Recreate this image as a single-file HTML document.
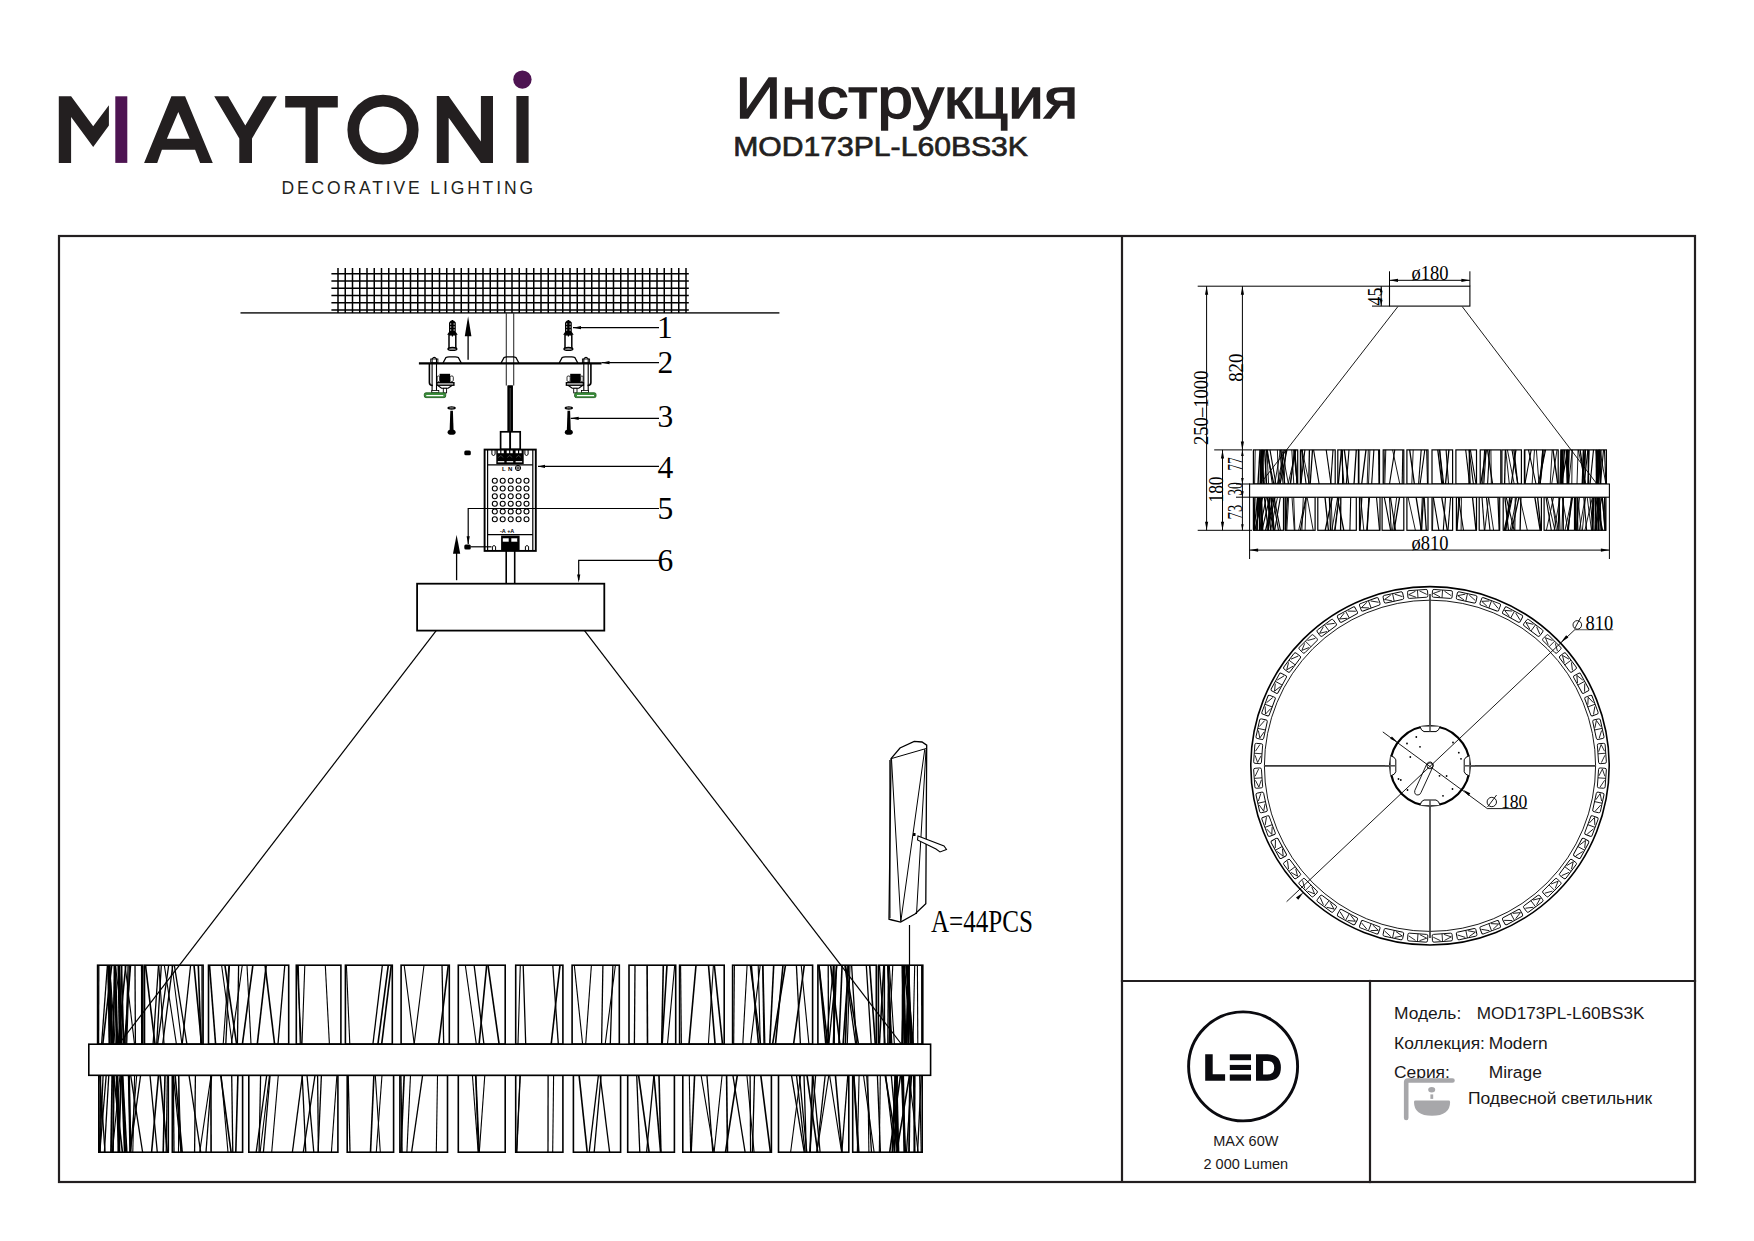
<!DOCTYPE html>
<html><head><meta charset="utf-8"><title>Инструкция MOD173PL-L60BS3K</title>
<style>html,body{margin:0;padding:0;background:#fff;width:1754px;height:1241px;overflow:hidden}svg{display:block}</style></head>
<body><svg width="1754" height="1241" viewBox="0 0 1754 1241">
<rect width="1754" height="1241" fill="#fff"/>
<g stroke="#231f20" stroke-width="2.2" fill="none" stroke-linecap="square">
<rect x="59" y="236" width="1636" height="946"/>
<line x1="1122" y1="236" x2="1122" y2="1182"/>
<line x1="1122" y1="981" x2="1695" y2="981"/>
<line x1="1370" y1="981" x2="1370" y2="1182"/>
</g>
<polygon points="58.8,96.3 71.1,96.3 93.2,126.3 108.9,105.3 108.9,125.6 93.2,146.9 71.1,117.0 71.1,162.9 58.8,162.9" fill="#231f20" />
<rect x="115.3" y="96.3" width="12" height="66.6" fill="#4e1452"/>
<path d="M144.1,162.9 L157.2,162.9 L161.9,149.8 L195.1,149.8 L200.1,162.9 L212.8,162.9 L185.1,96.3 L171.4,96.3 Z M178.3,112 L189.7,138.8 L166.9,138.8 Z" fill="#231f20" fill-rule="evenodd"/>
<polygon points="214.2,96.3 228.2,96.3 245.3,125.6 262.7,96.3 276.9,96.3 252.0,138.4 252.0,162.9 239.3,162.9 239.3,138.4" fill="#231f20" />
<polygon points="285.2,96.0 337.8,96.0 337.8,107.4 317.8,107.4 317.8,162.9 305.5,162.9 305.5,107.4 285.2,107.4" fill="#231f20" />
<ellipse cx="383" cy="129.7" rx="29.75" ry="29.05" fill="none" stroke="#231f20" stroke-width="11.7"/>
<polygon points="436.8,96.0 448.7,96.0 480.9,141.5 480.9,96.0 493.0,96.0 493.0,162.9 480.9,162.9 448.7,117.8 448.7,162.9 436.8,162.9" fill="#231f20" />
<rect x="516.4" y="96" width="12.2" height="66.9" fill="#231f20"/>
<circle cx="522.4" cy="79.6" r="9.2" fill="#4e1452"/>
<text x="281.6" y="194.2" font-family="Liberation Sans" font-size="17.5" fill="#231f20" textLength="251.4" lengthAdjust="spacing">DECORATIVE LIGHTING</text>
<text x="735.6" y="117.6" font-family="Liberation Sans" font-size="58" fill="#231f20" stroke="#231f20" stroke-width="1.5" stroke-linejoin="miter" textLength="342.6" lengthAdjust="spacingAndGlyphs">Инструкция</text>
<text x="733.2" y="156.4" font-family="Liberation Sans" font-size="28.4" fill="#231f20" stroke="#231f20" stroke-width="0.7" textLength="294.8" lengthAdjust="spacingAndGlyphs">MOD173PL-L60BS3K</text>
<text x="1394" y="1019.2" font-family="Liberation Sans" fill="#1a1718" font-size="17.4">Модель:</text>
<text x="1476.7" y="1019.2" font-family="Liberation Sans" fill="#1a1718" font-size="17.4" textLength="167.7" lengthAdjust="spacingAndGlyphs">MOD173PL-L60BS3K</text>
<text x="1394" y="1048.6" font-family="Liberation Sans" fill="#1a1718" font-size="17.4">Коллекция:</text>
<text x="1488.7" y="1048.6" font-family="Liberation Sans" fill="#1a1718" font-size="17.4">Modern</text>
<text x="1394" y="1078" font-family="Liberation Sans" fill="#1a1718" font-size="17.4">Серия:</text>
<text x="1488.7" y="1078" font-family="Liberation Sans" fill="#1a1718" font-size="17.4">Mirage</text>
<text x="1467.9" y="1104.1" font-family="Liberation Sans" fill="#1a1718" font-size="17.4" textLength="184.3" lengthAdjust="spacingAndGlyphs">Подвесной светильник</text>
<path d="M1406.2,1118 L1406.2,1082 Q1406.2,1080.5 1408,1080.5 L1452.5,1080.5" fill="none" stroke="#a7a7aa" stroke-width="4.6" stroke-linecap="round" stroke-linejoin="round"/>
<ellipse cx="1431.7" cy="1089.8" rx="3.5" ry="2.7" fill="#a7a7aa"/>
<rect x="1430.4" y="1094.4" width="2.8" height="4.5" fill="#a7a7aa"/>
<path d="M1414,1101.8 Q1414,1100.6 1415.5,1100.6 L1448.6,1100.6 Q1450.1,1100.6 1450.1,1102 Q1450.1,1115.8 1432,1115.8 Q1414,1115.8 1414,1102 Z" fill="#a7a7aa"/>
<circle cx="1243.1" cy="1066.4" r="54.5" fill="none" stroke="#0a0a0f" stroke-width="2.9"/>
<path d="M1205.2,1054.3 H1212.7 V1074.3 H1225.1 V1080.7 H1205.2 Z" fill="#0a0a0f"/>
<rect x="1229.8" y="1054.3" width="21.2" height="5.9" fill="#0a0a0f"/>
<rect x="1229.8" y="1064.9" width="21.2" height="5.1" fill="#0a0a0f"/>
<rect x="1229.8" y="1074.5" width="21.2" height="6.2" fill="#0a0a0f"/>
<path d="M1256,1054.3 H1267.5 Q1280.9,1054.3 1280.9,1067.5 Q1280.9,1080.7 1267.5,1080.7 H1256 Z M1263.1,1060.9 V1074.5 H1267 Q1274.2,1074.5 1274.2,1067.7 Q1274.2,1060.9 1267,1060.9 Z" fill="#0a0a0f" fill-rule="evenodd"/>
<text x="1245.8" y="1146.2" font-family="Liberation Sans" fill="#1a1718" font-size="14.5" text-anchor="middle">MAX 60W</text>
<text x="1245.8" y="1169.1" font-family="Liberation Sans" fill="#1a1718" font-size="14.5" text-anchor="middle">2 000 Lumen</text>
<line x1="240.5" y1="312.9" x2="779.4" y2="312.9" stroke="#3a3a3a" stroke-width="1.8" />
<path d="M338.00,268.1V312.9M345.25,268.1V312.9M352.50,268.1V312.9M359.75,268.1V312.9M367.00,268.1V312.9M374.25,268.1V312.9M381.50,268.1V312.9M388.75,268.1V312.9M396.00,268.1V312.9M403.25,268.1V312.9M410.50,268.1V312.9M417.75,268.1V312.9M425.00,268.1V312.9M432.25,268.1V312.9M439.50,268.1V312.9M446.75,268.1V312.9M454.00,268.1V312.9M461.25,268.1V312.9M468.50,268.1V312.9M475.75,268.1V312.9M483.00,268.1V312.9M490.25,268.1V312.9M497.50,268.1V312.9M504.75,268.1V312.9M512.00,268.1V312.9M519.25,268.1V312.9M526.50,268.1V312.9M533.75,268.1V312.9M541.00,268.1V312.9M548.25,268.1V312.9M555.50,268.1V312.9M562.75,268.1V312.9M570.00,268.1V312.9M577.25,268.1V312.9M584.50,268.1V312.9M591.75,268.1V312.9M599.00,268.1V312.9M606.25,268.1V312.9M613.50,268.1V312.9M620.75,268.1V312.9M628.00,268.1V312.9M635.25,268.1V312.9M642.50,268.1V312.9M649.75,268.1V312.9M657.00,268.1V312.9M664.25,268.1V312.9M671.50,268.1V312.9M678.75,268.1V312.9M686.00,268.1V312.9M331.4,273.80H688.8M331.4,281.05H688.8M331.4,288.30H688.8M331.4,295.55H688.8M331.4,302.80H688.8M331.4,310.05H688.8" stroke="#000" stroke-width="1.5" fill="none"/>
<line x1="506.3" y1="313.0" x2="506.3" y2="385.5" stroke="#333" stroke-width="1.1" />
<line x1="513.7" y1="313.0" x2="513.7" y2="385.5" stroke="#333" stroke-width="1.1" />
<rect x="507.6" y="385.5" width="5.2" height="46.0" fill="#000" stroke="#000" stroke-width="0"/>
<rect x="507.6" y="385.5" width="5.2" height="46" fill="#000"/>
<line x1="510.2" y1="388.0" x2="510.2" y2="431.5" stroke="#888" stroke-width="0.5" />
<line x1="418.9" y1="363.4" x2="601.5" y2="363.4" stroke="#000" stroke-width="2.2" />
<path d="M443.0,363 L446.0,357.5 Q447.0,356.8 449.0,356.8 L455.3,356.8 Q457.3,356.8 458.3,357.5 L461.3,363" fill="none" stroke="#000" stroke-width="1.3"/>
<path d="M501.1,363 L504.1,357.5 Q505.1,356.8 507.1,356.8 L512.9,356.8 Q514.9,356.8 515.9,357.5 L518.9,363" fill="none" stroke="#000" stroke-width="1.3"/>
<path d="M559.2,363 L562.2,357.5 Q563.2,356.8 565.2,356.8 L571.8,356.8 Q573.8,356.8 574.8,357.5 L577.8,363" fill="none" stroke="#000" stroke-width="1.3"/>
<path d="M449.0,332.5 V322.5 Q452.4,318 455.8,322.5 V332.5 Z" fill="#000"/>
<rect x="450.0" y="323.5" width="1.3" height="1" fill="#fff"/><rect x="453.5" y="323.5" width="1.3" height="1" fill="#fff"/>
<rect x="450.0" y="326.5" width="1.3" height="1" fill="#fff"/><rect x="453.5" y="326.5" width="1.3" height="1" fill="#fff"/>
<rect x="450.0" y="329.5" width="1.3" height="1" fill="#fff"/><rect x="453.5" y="329.5" width="1.3" height="1" fill="#fff"/>
<polygon points="447.1,334.8 449.0,331.9 455.8,331.9 457.7,334.8" fill="#000"/>
<rect x="449.0" y="334.8" width="6.8" height="13.6" fill="#fff" stroke="#000" stroke-width="1.5"/>
<ellipse cx="452.4" cy="348.9" rx="4.3" ry="1.3" fill="#fff" stroke="#000" stroke-width="1.6"/>
<line x1="452.4" y1="320.0" x2="452.4" y2="336.5" stroke="#000" stroke-width="1.2" />
<path d="M565.0,332.5 V322.5 Q568.4,318 571.8,322.5 V332.5 Z" fill="#000"/>
<rect x="566.0" y="323.5" width="1.3" height="1" fill="#fff"/><rect x="569.5" y="323.5" width="1.3" height="1" fill="#fff"/>
<rect x="566.0" y="326.5" width="1.3" height="1" fill="#fff"/><rect x="569.5" y="326.5" width="1.3" height="1" fill="#fff"/>
<rect x="566.0" y="329.5" width="1.3" height="1" fill="#fff"/><rect x="569.5" y="329.5" width="1.3" height="1" fill="#fff"/>
<polygon points="563.1,334.8 565.0,331.9 571.8,331.9 573.7,334.8" fill="#000"/>
<rect x="565.0" y="334.8" width="6.8" height="13.6" fill="#fff" stroke="#000" stroke-width="1.5"/>
<ellipse cx="568.4" cy="348.9" rx="4.3" ry="1.3" fill="#fff" stroke="#000" stroke-width="1.6"/>
<line x1="568.4" y1="320.0" x2="568.4" y2="336.5" stroke="#000" stroke-width="1.2" />
<line x1="468.1" y1="333.0" x2="468.1" y2="359.7" stroke="#000" stroke-width="1.3" />
<polygon points="468.1,316.3 471.4,336.3 464.8,336.3" fill="#000"/>
<g transform="translate(434.3,0) scale(-1,1)" fill="none" stroke="#000"><rect x="-3.6" y="359" width="7.2" height="3.6" stroke-width="0.9" fill="#fff"/><path d="M-2.2,393 V359 Q0,355.8 2.2,359 V393" stroke-width="1.1"/><path d="M4.9,364 V382.5 Q4.9,385.5 1.5,385.5" stroke-width="1.6"/><rect x="-15.8" y="373.8" width="10.5" height="8.9" fill="#000" stroke="none"/><rect x="-19" y="376" width="3.2" height="5.5" rx="1.2" stroke-width="0.8" fill="#fff"/><rect x="-5.3" y="376" width="2.4" height="5.5" rx="1" stroke-width="0.8" fill="#fff"/><rect x="-19.6" y="382.7" width="17" height="2.5" stroke-width="1.4" fill="#fff"/><path d="M-18,385.2 L-13.8,388.3 H-7.2 L-3.2,385.2" stroke-width="1.1"/><rect x="-12.3" y="388.3" width="3.3" height="4.6" stroke-width="0.9" fill="#fff"/><rect x="-4.5" y="390.5" width="7" height="2.3" stroke-width="0.8" fill="#fff"/><rect x="-11.4" y="392.8" width="21.4" height="4.8" rx="1.6" fill="#3d8f3d" stroke="#1f5f1f" stroke-width="0.9"/><line x1="-9" y1="395.6" x2="8" y2="395.6" stroke="#fff" stroke-width="1.2"/></g>
<g transform="translate(586,0) scale(1,1)" fill="none" stroke="#000"><rect x="-3.6" y="359" width="7.2" height="3.6" stroke-width="0.9" fill="#fff"/><path d="M-2.2,393 V359 Q0,355.8 2.2,359 V393" stroke-width="1.1"/><path d="M4.9,364 V382.5 Q4.9,385.5 1.5,385.5" stroke-width="1.6"/><rect x="-15.8" y="373.8" width="10.5" height="8.9" fill="#000" stroke="none"/><rect x="-19" y="376" width="3.2" height="5.5" rx="1.2" stroke-width="0.8" fill="#fff"/><rect x="-5.3" y="376" width="2.4" height="5.5" rx="1" stroke-width="0.8" fill="#fff"/><rect x="-19.6" y="382.7" width="17" height="2.5" stroke-width="1.4" fill="#fff"/><path d="M-18,385.2 L-13.8,388.3 H-7.2 L-3.2,385.2" stroke-width="1.1"/><rect x="-12.3" y="388.3" width="3.3" height="4.6" stroke-width="0.9" fill="#fff"/><rect x="-4.5" y="390.5" width="7" height="2.3" stroke-width="0.8" fill="#fff"/><rect x="-11.4" y="392.8" width="21.4" height="4.8" rx="1.6" fill="#3d8f3d" stroke="#1f5f1f" stroke-width="0.9"/><line x1="-9" y1="395.6" x2="8" y2="395.6" stroke="#fff" stroke-width="1.2"/></g>
<ellipse cx="451.6" cy="408" rx="4.2" ry="1.7" fill="#000"/>
<line x1="449.6" y1="407.9" x2="453.6" y2="407.9" stroke="#fff" stroke-width="0.6"/>
<polygon points="450.3,410.8 452.9,410.8 453.6,431 449.6,431" fill="#000"/>
<ellipse cx="451.6" cy="432.2" rx="4" ry="2.6" fill="#000"/>
<ellipse cx="568.8" cy="408" rx="4.2" ry="1.7" fill="#000"/>
<line x1="566.8" y1="407.9" x2="570.8" y2="407.9" stroke="#fff" stroke-width="0.6"/>
<polygon points="567.5,410.8 570.1,410.8 570.8,431 566.8,431" fill="#000"/>
<ellipse cx="568.8" cy="432.2" rx="4" ry="2.6" fill="#000"/>
<line x1="573.0" y1="327.7" x2="659.0" y2="327.7" stroke="#000" stroke-width="1.2" />
<polygon points="573.0,327.7 581.0,326.1 581.0,329.3" fill="#000"/>
<line x1="601.5" y1="362.7" x2="659.0" y2="362.7" stroke="#000" stroke-width="1.2" />
<polygon points="601.5,362.7 609.5,361.1 609.5,364.3" fill="#000"/>
<line x1="570.7" y1="418.3" x2="659.0" y2="418.3" stroke="#000" stroke-width="1.2" />
<polygon points="570.7,418.3 578.7,416.7 578.7,419.9" fill="#000"/>
<rect x="500.6" y="431.8" width="19.6" height="17.6" fill="none" stroke="#000" stroke-width="1.7"/>
<line x1="510.1" y1="431.5" x2="510.1" y2="449.4" stroke="#000" stroke-width="1.9" />
<rect x="484.6" y="449.6" width="51.2" height="101.3" fill="none" stroke="#000" stroke-width="1.9"/>
<line x1="487.6" y1="449.4" x2="487.6" y2="551.1" stroke="#000" stroke-width="1.2" />
<line x1="532.8" y1="449.4" x2="532.8" y2="551.1" stroke="#000" stroke-width="1.2" />
<line x1="487.6" y1="464.9" x2="532.8" y2="464.9" stroke="#000" stroke-width="1.3" />
<line x1="487.6" y1="534.7" x2="532.8" y2="534.7" stroke="#000" stroke-width="1.3" />
<rect x="496.3" y="449.8" width="27.4" height="14.4" fill="#000"/>
<rect x="497.8" y="450.6" width="2.4" height="2.6" fill="#fff"/><rect x="501.4" y="450.6" width="2.4" height="2.6" fill="#fff"/>
<rect x="497.8" y="461" width="6.5" height="1.4" fill="#ddd"/>
<path d="M498.3,457.5 L500.8,455.5 L503.3,457.5" stroke="#777" stroke-width="0.5" fill="none"/>
<rect x="506.7" y="450.6" width="2.4" height="2.6" fill="#fff"/><rect x="510.3" y="450.6" width="2.4" height="2.6" fill="#fff"/>
<rect x="506.7" y="461" width="6.5" height="1.4" fill="#ddd"/>
<path d="M507.2,457.5 L509.7,455.5 L512.2,457.5" stroke="#777" stroke-width="0.5" fill="none"/>
<rect x="515.6" y="450.6" width="2.4" height="2.6" fill="#fff"/><rect x="519.2" y="450.6" width="2.4" height="2.6" fill="#fff"/>
<rect x="515.6" y="461" width="6.5" height="1.4" fill="#ddd"/>
<path d="M516.1,457.5 L518.6,455.5 L521.1,457.5" stroke="#777" stroke-width="0.5" fill="none"/>
<path d="M491.9,450 V454.5 Q493.5,456.5 495.1,454.5 V450" fill="none" stroke="#000" stroke-width="1"/>
<path d="M524.9,450 V454.5 Q526.5,456.5 528.1,454.5 V450" fill="none" stroke="#000" stroke-width="1"/>
<text x="502" y="470.5" font-family="Liberation Sans" font-size="6" font-weight="bold" fill="#000">L</text>
<text x="508" y="470.5" font-family="Liberation Sans" font-size="6" font-weight="bold" fill="#000">N</text>
<circle cx="518" cy="468" r="2.6" fill="none" stroke="#000" stroke-width="1"/>
<line x1="515.4" y1="468.0" x2="520.6" y2="468.0" stroke="#000" stroke-width="0.8" />
<line x1="518.0" y1="465.4" x2="518.0" y2="470.6" stroke="#000" stroke-width="0.8" />
<circle cx="494.8" cy="480.8" r="2.5" fill="none" stroke="#000" stroke-width="1.1"/>
<circle cx="502.7" cy="480.8" r="2.5" fill="none" stroke="#000" stroke-width="1.1"/>
<circle cx="510.7" cy="480.8" r="2.5" fill="none" stroke="#000" stroke-width="1.1"/>
<circle cx="518.6" cy="480.8" r="2.5" fill="none" stroke="#000" stroke-width="1.1"/>
<circle cx="526.5" cy="480.8" r="2.5" fill="none" stroke="#000" stroke-width="1.1"/>
<circle cx="494.8" cy="488.5" r="2.5" fill="none" stroke="#000" stroke-width="1.1"/>
<circle cx="502.7" cy="488.5" r="2.5" fill="none" stroke="#000" stroke-width="1.1"/>
<circle cx="510.7" cy="488.5" r="2.5" fill="none" stroke="#000" stroke-width="1.1"/>
<circle cx="518.6" cy="488.5" r="2.5" fill="none" stroke="#000" stroke-width="1.1"/>
<circle cx="526.5" cy="488.5" r="2.5" fill="none" stroke="#000" stroke-width="1.1"/>
<circle cx="494.8" cy="496.2" r="2.5" fill="none" stroke="#000" stroke-width="1.1"/>
<circle cx="502.7" cy="496.2" r="2.5" fill="none" stroke="#000" stroke-width="1.1"/>
<circle cx="510.7" cy="496.2" r="2.5" fill="none" stroke="#000" stroke-width="1.1"/>
<circle cx="518.6" cy="496.2" r="2.5" fill="none" stroke="#000" stroke-width="1.1"/>
<circle cx="526.5" cy="496.2" r="2.5" fill="none" stroke="#000" stroke-width="1.1"/>
<circle cx="494.8" cy="503.8" r="2.5" fill="none" stroke="#000" stroke-width="1.1"/>
<circle cx="502.7" cy="503.8" r="2.5" fill="none" stroke="#000" stroke-width="1.1"/>
<circle cx="510.7" cy="503.8" r="2.5" fill="none" stroke="#000" stroke-width="1.1"/>
<circle cx="518.6" cy="503.8" r="2.5" fill="none" stroke="#000" stroke-width="1.1"/>
<circle cx="526.5" cy="503.8" r="2.5" fill="none" stroke="#000" stroke-width="1.1"/>
<circle cx="494.8" cy="511.5" r="2.5" fill="none" stroke="#000" stroke-width="1.1"/>
<circle cx="502.7" cy="511.5" r="2.5" fill="none" stroke="#000" stroke-width="1.1"/>
<circle cx="510.7" cy="511.5" r="2.5" fill="none" stroke="#000" stroke-width="1.1"/>
<circle cx="518.6" cy="511.5" r="2.5" fill="none" stroke="#000" stroke-width="1.1"/>
<circle cx="526.5" cy="511.5" r="2.5" fill="none" stroke="#000" stroke-width="1.1"/>
<circle cx="494.8" cy="519.2" r="2.5" fill="none" stroke="#000" stroke-width="1.1"/>
<circle cx="502.7" cy="519.2" r="2.5" fill="none" stroke="#000" stroke-width="1.1"/>
<circle cx="510.7" cy="519.2" r="2.5" fill="none" stroke="#000" stroke-width="1.1"/>
<circle cx="518.6" cy="519.2" r="2.5" fill="none" stroke="#000" stroke-width="1.1"/>
<circle cx="526.5" cy="519.2" r="2.5" fill="none" stroke="#000" stroke-width="1.1"/>
<text x="500" y="533" font-family="Liberation Sans" font-size="5.5" font-weight="bold" fill="#000">-A  +A</text>
<rect x="501.1" y="535.6" width="18.5" height="15" fill="#000"/>
<rect x="502.5" y="538.0" width="6.5" height="4.0" fill="#fff" stroke="#000" stroke-width="0.6"/>
<rect x="511.0" y="538.0" width="6.5" height="4.0" fill="#fff" stroke="#000" stroke-width="0.6"/>
<path d="M492.4,551 V546.5 Q494.0,544.5 495.6,546.5 V551" fill="none" stroke="#000" stroke-width="1"/>
<path d="M525.4,551 V546.5 Q527.0,544.5 528.6,546.5 V551" fill="none" stroke="#000" stroke-width="1"/>
<line x1="506.2" y1="551.0" x2="506.2" y2="583.7" stroke="#000" stroke-width="1.6" />
<line x1="514.7" y1="551.0" x2="514.7" y2="583.7" stroke="#000" stroke-width="1.6" />
<rect x="464.3" y="450.4" width="6.5" height="4.8" rx="1.5" fill="#000"/>
<rect x="464.3" y="544.6" width="6.5" height="4.8" rx="1.5" fill="#000"/>
<line x1="470.8" y1="546.8" x2="491.5" y2="546.8" stroke="#000" stroke-width="1.2" />
<line x1="538.0" y1="466.4" x2="659.0" y2="466.4" stroke="#000" stroke-width="1.2" />
<polygon points="538.0,466.4 545.0,464.8 545.0,468.0" fill="#000"/>
<path d="M659,508.5 H468.2 V544" fill="none" stroke="#000" stroke-width="1.2"/>
<polygon points="468.2,544.2 466.6,536.2 469.8,536.2" fill="#000"/>
<line x1="456.6" y1="550.0" x2="456.6" y2="580.2" stroke="#000" stroke-width="1.3" />
<polygon points="456.6,534.7 460.2,553.7 453.0,553.7" fill="#000"/>
<path d="M659,560.3 H578.7 V580" fill="none" stroke="#000" stroke-width="1.2"/>
<polygon points="578.7,582.5 577.1,574.5 580.3,574.5" fill="#000"/>
<text x="657" y="338" font-family="Liberation Serif" font-size="31.5" fill="#000" text-anchor="start" >1</text>
<text x="657.5" y="372.5" font-family="Liberation Serif" font-size="31.5" fill="#000" text-anchor="start" >2</text>
<text x="657.5" y="427.4" font-family="Liberation Serif" font-size="31.5" fill="#000" text-anchor="start" >3</text>
<text x="657.5" y="477.5" font-family="Liberation Serif" font-size="31.5" fill="#000" text-anchor="start" >4</text>
<text x="657.5" y="519.2" font-family="Liberation Serif" font-size="31.5" fill="#000" text-anchor="start" >5</text>
<text x="657.5" y="570.5" font-family="Liberation Serif" font-size="31.5" fill="#000" text-anchor="start" >6</text>
<rect x="417.1" y="583.7" width="187.2" height="46.9" fill="none" stroke="#000" stroke-width="1.8"/>
<line x1="436.2" y1="630.6" x2="120.5" y2="1042.0" stroke="#000" stroke-width="1.2" />
<line x1="584.5" y1="630.6" x2="901.3" y2="1044.0" stroke="#000" stroke-width="1.2" />
<rect x="97.6" y="965.2" width="45.2" height="78.9" fill="none" stroke="#000" stroke-width="1.6"/>
<line x1="118.1" y1="965.2" x2="119.4" y2="1044.1" stroke="#000" stroke-width="1.3" />
<line x1="125.8" y1="965.2" x2="118.1" y2="1044.1" stroke="#000" stroke-width="1.6" />
<line x1="121.6" y1="965.2" x2="119.2" y2="1044.1" stroke="#000" stroke-width="1.3" />
<line x1="111.7" y1="965.2" x2="102.8" y2="1044.1" stroke="#000" stroke-width="1.6" />
<line x1="128.1" y1="965.2" x2="126.0" y2="1044.1" stroke="#000" stroke-width="1.3" />
<line x1="129.4" y1="965.2" x2="126.8" y2="1044.1" stroke="#000" stroke-width="1.1" />
<line x1="125.1" y1="965.2" x2="134.5" y2="1044.1" stroke="#000" stroke-width="1.1" />
<line x1="130.5" y1="965.2" x2="124.5" y2="1044.1" stroke="#000" stroke-width="1.6" />
<line x1="135.0" y1="965.2" x2="135.4" y2="1044.1" stroke="#000" stroke-width="1.3" />
<line x1="98.8" y1="965.2" x2="98.6" y2="1044.1" stroke="#000" stroke-width="1.3" />
<line x1="141.7" y1="965.2" x2="141.8" y2="1044.1" stroke="#000" stroke-width="1.6" />
<line x1="109.6" y1="965.2" x2="115.2" y2="1044.1" stroke="#000" stroke-width="1.1" />
<line x1="107.4" y1="965.2" x2="101.6" y2="1044.1" stroke="#000" stroke-width="1.3" />
<line x1="115.3" y1="965.2" x2="125.2" y2="1044.1" stroke="#000" stroke-width="1.1" />
<rect x="144.5" y="965.2" width="58.6" height="78.9" fill="none" stroke="#000" stroke-width="1.6"/>
<line x1="168.7" y1="965.2" x2="157.6" y2="1044.1" stroke="#000" stroke-width="1.3" />
<line x1="198.3" y1="965.2" x2="201.0" y2="1044.1" stroke="#000" stroke-width="1.6" />
<line x1="161.3" y1="965.2" x2="156.7" y2="1044.1" stroke="#000" stroke-width="1.3" />
<line x1="164.3" y1="965.2" x2="176.4" y2="1044.1" stroke="#000" stroke-width="1.1" />
<line x1="158.5" y1="965.2" x2="153.1" y2="1044.1" stroke="#000" stroke-width="1.3" />
<line x1="190.6" y1="965.2" x2="182.2" y2="1044.1" stroke="#000" stroke-width="1.3" />
<line x1="174.3" y1="965.2" x2="186.9" y2="1044.1" stroke="#000" stroke-width="1.3" />
<line x1="172.0" y1="965.2" x2="181.9" y2="1044.1" stroke="#000" stroke-width="1.1" />
<line x1="145.5" y1="965.2" x2="155.0" y2="1044.1" stroke="#000" stroke-width="1.6" />
<line x1="172.7" y1="965.2" x2="162.7" y2="1044.1" stroke="#000" stroke-width="1.3" />
<line x1="201.9" y1="965.2" x2="202.1" y2="1044.1" stroke="#000" stroke-width="1.1" />
<line x1="194.0" y1="965.2" x2="201.5" y2="1044.1" stroke="#000" stroke-width="1.6" />
<line x1="158.8" y1="965.2" x2="164.1" y2="1044.1" stroke="#000" stroke-width="1.1" />
<rect x="208.5" y="965.2" width="80.2" height="78.9" fill="none" stroke="#000" stroke-width="1.6"/>
<line x1="229.4" y1="965.2" x2="225.8" y2="1044.1" stroke="#000" stroke-width="1.3" />
<line x1="238.6" y1="965.2" x2="237.4" y2="1044.1" stroke="#000" stroke-width="1.3" />
<line x1="265.1" y1="965.2" x2="274.6" y2="1044.1" stroke="#000" stroke-width="1.6" />
<line x1="221.6" y1="965.2" x2="232.2" y2="1044.1" stroke="#000" stroke-width="1.1" />
<line x1="266.2" y1="965.2" x2="257.3" y2="1044.1" stroke="#000" stroke-width="1.6" />
<line x1="224.9" y1="965.2" x2="236.6" y2="1044.1" stroke="#000" stroke-width="1.6" />
<line x1="209.5" y1="965.2" x2="215.6" y2="1044.1" stroke="#000" stroke-width="1.6" />
<line x1="284.8" y1="965.2" x2="278.0" y2="1044.1" stroke="#000" stroke-width="1.3" />
<line x1="252.9" y1="965.2" x2="242.4" y2="1044.1" stroke="#000" stroke-width="1.6" />
<line x1="228.9" y1="965.2" x2="223.2" y2="1044.1" stroke="#000" stroke-width="1.1" />
<line x1="247.0" y1="965.2" x2="251.0" y2="1044.1" stroke="#000" stroke-width="1.1" />
<line x1="242.3" y1="965.2" x2="231.4" y2="1044.1" stroke="#000" stroke-width="1.1" />
<rect x="296.3" y="965.2" width="44.6" height="78.9" fill="none" stroke="#000" stroke-width="1.6"/>
<line x1="298.3" y1="965.2" x2="300.2" y2="1044.1" stroke="#000" stroke-width="1.1" />
<line x1="304.8" y1="965.2" x2="302.0" y2="1044.1" stroke="#000" stroke-width="1.1" />
<line x1="297.3" y1="965.2" x2="301.2" y2="1044.1" stroke="#000" stroke-width="1.3" />
<line x1="325.3" y1="965.2" x2="329.4" y2="1044.1" stroke="#000" stroke-width="1.1" />
<rect x="345.4" y="965.2" width="46.9" height="78.9" fill="none" stroke="#000" stroke-width="1.6"/>
<line x1="382.4" y1="965.2" x2="372.9" y2="1044.1" stroke="#000" stroke-width="1.3" />
<line x1="388.3" y1="965.2" x2="377.9" y2="1044.1" stroke="#000" stroke-width="1.6" />
<line x1="346.4" y1="965.2" x2="349.8" y2="1044.1" stroke="#000" stroke-width="1.1" />
<line x1="391.3" y1="965.2" x2="381.7" y2="1044.1" stroke="#000" stroke-width="1.6" />
<rect x="401.1" y="965.2" width="48.2" height="78.9" fill="none" stroke="#000" stroke-width="1.6"/>
<line x1="404.2" y1="965.2" x2="414.2" y2="1044.1" stroke="#000" stroke-width="1.1" />
<line x1="448.3" y1="965.2" x2="438.7" y2="1044.1" stroke="#000" stroke-width="1.6" />
<line x1="424.0" y1="965.2" x2="414.2" y2="1044.1" stroke="#000" stroke-width="1.1" />
<line x1="442.0" y1="965.2" x2="443.7" y2="1044.1" stroke="#000" stroke-width="1.3" />
<rect x="458.3" y="965.2" width="46.9" height="78.9" fill="none" stroke="#000" stroke-width="1.6"/>
<line x1="465.3" y1="965.2" x2="476.3" y2="1044.1" stroke="#000" stroke-width="1.1" />
<line x1="488.0" y1="965.2" x2="499.1" y2="1044.1" stroke="#000" stroke-width="1.6" />
<line x1="474.1" y1="965.2" x2="483.9" y2="1044.1" stroke="#000" stroke-width="1.3" />
<line x1="486.7" y1="965.2" x2="479.1" y2="1044.1" stroke="#000" stroke-width="1.6" />
<rect x="515.7" y="965.2" width="47.2" height="78.9" fill="none" stroke="#000" stroke-width="1.6"/>
<line x1="520.3" y1="965.2" x2="518.0" y2="1044.1" stroke="#000" stroke-width="1.1" />
<line x1="560.0" y1="965.2" x2="551.2" y2="1044.1" stroke="#000" stroke-width="1.6" />
<line x1="552.8" y1="965.2" x2="558.3" y2="1044.1" stroke="#000" stroke-width="1.3" />
<line x1="523.2" y1="965.2" x2="525.7" y2="1044.1" stroke="#000" stroke-width="1.3" />
<rect x="572.1" y="965.2" width="47.2" height="78.9" fill="none" stroke="#000" stroke-width="1.6"/>
<line x1="602.9" y1="965.2" x2="601.6" y2="1044.1" stroke="#000" stroke-width="1.3" />
<line x1="591.4" y1="965.2" x2="585.7" y2="1044.1" stroke="#000" stroke-width="1.1" />
<line x1="612.9" y1="965.2" x2="610.3" y2="1044.1" stroke="#000" stroke-width="1.3" />
<line x1="574.3" y1="965.2" x2="582.6" y2="1044.1" stroke="#000" stroke-width="1.1" />
<line x1="615.4" y1="965.2" x2="605.2" y2="1044.1" stroke="#000" stroke-width="1.1" />
<rect x="629.0" y="965.2" width="46.7" height="78.9" fill="none" stroke="#000" stroke-width="1.6"/>
<line x1="635.0" y1="965.2" x2="634.4" y2="1044.1" stroke="#000" stroke-width="1.3" />
<line x1="647.1" y1="965.2" x2="647.5" y2="1044.1" stroke="#000" stroke-width="1.6" />
<line x1="674.7" y1="965.2" x2="667.5" y2="1044.1" stroke="#000" stroke-width="1.1" />
<line x1="667.0" y1="965.2" x2="662.1" y2="1044.1" stroke="#000" stroke-width="1.6" />
<line x1="663.3" y1="965.2" x2="661.7" y2="1044.1" stroke="#000" stroke-width="1.6" />
<rect x="679.6" y="965.2" width="44.6" height="78.9" fill="none" stroke="#000" stroke-width="1.6"/>
<line x1="680.6" y1="965.2" x2="681.4" y2="1044.1" stroke="#000" stroke-width="1.1" />
<line x1="713.4" y1="965.2" x2="708.4" y2="1044.1" stroke="#000" stroke-width="1.1" />
<line x1="714.3" y1="965.2" x2="722.5" y2="1044.1" stroke="#000" stroke-width="1.6" />
<line x1="708.5" y1="965.2" x2="715.1" y2="1044.1" stroke="#000" stroke-width="1.6" />
<line x1="696.0" y1="965.2" x2="689.0" y2="1044.1" stroke="#000" stroke-width="1.6" />
<rect x="732.6" y="965.2" width="80.0" height="78.9" fill="none" stroke="#000" stroke-width="1.6"/>
<line x1="734.4" y1="965.2" x2="733.7" y2="1044.1" stroke="#000" stroke-width="1.1" />
<line x1="751.3" y1="965.2" x2="758.5" y2="1044.1" stroke="#000" stroke-width="1.6" />
<line x1="785.5" y1="965.2" x2="772.6" y2="1044.1" stroke="#000" stroke-width="1.6" />
<line x1="804.3" y1="965.2" x2="793.6" y2="1044.1" stroke="#000" stroke-width="1.6" />
<line x1="762.6" y1="965.2" x2="763.9" y2="1044.1" stroke="#000" stroke-width="1.1" />
<line x1="763.0" y1="965.2" x2="764.8" y2="1044.1" stroke="#000" stroke-width="1.3" />
<line x1="773.7" y1="965.2" x2="769.8" y2="1044.1" stroke="#000" stroke-width="1.6" />
<line x1="801.2" y1="965.2" x2="808.9" y2="1044.1" stroke="#000" stroke-width="1.1" />
<line x1="750.2" y1="965.2" x2="760.6" y2="1044.1" stroke="#000" stroke-width="1.3" />
<line x1="783.0" y1="965.2" x2="775.5" y2="1044.1" stroke="#000" stroke-width="1.6" />
<line x1="796.4" y1="965.2" x2="800.4" y2="1044.1" stroke="#000" stroke-width="1.3" />
<line x1="758.2" y1="965.2" x2="760.3" y2="1044.1" stroke="#000" stroke-width="1.1" />
<line x1="760.2" y1="965.2" x2="750.6" y2="1044.1" stroke="#000" stroke-width="1.1" />
<line x1="747.1" y1="965.2" x2="742.8" y2="1044.1" stroke="#000" stroke-width="1.1" />
<rect x="817.9" y="965.2" width="58.4" height="78.9" fill="none" stroke="#000" stroke-width="1.6"/>
<line x1="845.4" y1="965.2" x2="858.4" y2="1044.1" stroke="#000" stroke-width="1.6" />
<line x1="866.3" y1="965.2" x2="871.2" y2="1044.1" stroke="#000" stroke-width="1.3" />
<line x1="851.6" y1="965.2" x2="856.5" y2="1044.1" stroke="#000" stroke-width="1.3" />
<line x1="848.6" y1="965.2" x2="843.1" y2="1044.1" stroke="#000" stroke-width="1.6" />
<line x1="828.2" y1="965.2" x2="828.5" y2="1044.1" stroke="#000" stroke-width="1.3" />
<line x1="836.5" y1="965.2" x2="833.4" y2="1044.1" stroke="#000" stroke-width="1.6" />
<line x1="830.6" y1="965.2" x2="839.8" y2="1044.1" stroke="#000" stroke-width="1.6" />
<line x1="834.2" y1="965.2" x2="834.3" y2="1044.1" stroke="#000" stroke-width="1.1" />
<line x1="850.0" y1="965.2" x2="847.3" y2="1044.1" stroke="#000" stroke-width="1.1" />
<line x1="848.0" y1="965.2" x2="845.4" y2="1044.1" stroke="#000" stroke-width="1.6" />
<line x1="818.9" y1="965.2" x2="825.8" y2="1044.1" stroke="#000" stroke-width="1.6" />
<line x1="844.8" y1="965.2" x2="855.7" y2="1044.1" stroke="#000" stroke-width="1.3" />
<line x1="833.4" y1="965.2" x2="834.1" y2="1044.1" stroke="#000" stroke-width="1.3" />
<line x1="869.7" y1="965.2" x2="875.3" y2="1044.1" stroke="#000" stroke-width="1.6" />
<line x1="836.8" y1="965.2" x2="828.8" y2="1044.1" stroke="#000" stroke-width="1.3" />
<line x1="833.5" y1="965.2" x2="826.2" y2="1044.1" stroke="#000" stroke-width="1.1" />
<line x1="818.9" y1="965.2" x2="827.7" y2="1044.1" stroke="#000" stroke-width="1.6" />
<line x1="842.1" y1="965.2" x2="838.9" y2="1044.1" stroke="#000" stroke-width="1.6" />
<rect x="878.4" y="965.2" width="44.4" height="78.9" fill="none" stroke="#000" stroke-width="1.6"/>
<line x1="904.1" y1="965.2" x2="911.6" y2="1044.1" stroke="#000" stroke-width="1.6" />
<line x1="888.4" y1="965.2" x2="887.8" y2="1044.1" stroke="#000" stroke-width="1.3" />
<line x1="906.2" y1="965.2" x2="913.2" y2="1044.1" stroke="#000" stroke-width="1.6" />
<line x1="888.1" y1="965.2" x2="890.9" y2="1044.1" stroke="#000" stroke-width="1.6" />
<line x1="888.6" y1="965.2" x2="889.5" y2="1044.1" stroke="#000" stroke-width="1.1" />
<line x1="889.3" y1="965.2" x2="894.4" y2="1044.1" stroke="#000" stroke-width="1.1" />
<line x1="892.8" y1="965.2" x2="888.9" y2="1044.1" stroke="#000" stroke-width="1.1" />
<line x1="905.9" y1="965.2" x2="912.4" y2="1044.1" stroke="#000" stroke-width="1.1" />
<line x1="879.4" y1="965.2" x2="885.0" y2="1044.1" stroke="#000" stroke-width="1.3" />
<line x1="914.7" y1="965.2" x2="913.0" y2="1044.1" stroke="#000" stroke-width="1.1" />
<line x1="887.9" y1="965.2" x2="890.6" y2="1044.1" stroke="#000" stroke-width="1.1" />
<line x1="887.9" y1="965.2" x2="891.8" y2="1044.1" stroke="#000" stroke-width="1.3" />
<line x1="884.3" y1="965.2" x2="884.4" y2="1044.1" stroke="#000" stroke-width="1.6" />
<line x1="921.7" y1="965.2" x2="921.8" y2="1044.1" stroke="#000" stroke-width="1.3" />
<line x1="883.9" y1="965.2" x2="879.4" y2="1044.1" stroke="#000" stroke-width="1.6" />
<line x1="917.4" y1="965.2" x2="917.8" y2="1044.1" stroke="#000" stroke-width="1.1" />
<rect x="98.8" y="1075.3" width="69.5" height="76.9" fill="none" stroke="#000" stroke-width="1.6"/>
<line x1="113.6" y1="1075.3" x2="122.4" y2="1152.2" stroke="#000" stroke-width="1.6" />
<line x1="106.2" y1="1075.3" x2="99.8" y2="1152.2" stroke="#000" stroke-width="1.3" />
<line x1="99.8" y1="1075.3" x2="105.0" y2="1152.2" stroke="#000" stroke-width="1.3" />
<line x1="134.6" y1="1075.3" x2="132.8" y2="1152.2" stroke="#000" stroke-width="1.1" />
<line x1="130.7" y1="1075.3" x2="142.6" y2="1152.2" stroke="#000" stroke-width="1.3" />
<line x1="136.7" y1="1075.3" x2="130.4" y2="1152.2" stroke="#000" stroke-width="1.1" />
<line x1="140.6" y1="1075.3" x2="130.1" y2="1152.2" stroke="#000" stroke-width="1.3" />
<line x1="160.1" y1="1075.3" x2="167.3" y2="1152.2" stroke="#000" stroke-width="1.6" />
<line x1="165.0" y1="1075.3" x2="163.2" y2="1152.2" stroke="#000" stroke-width="1.6" />
<line x1="167.3" y1="1075.3" x2="166.1" y2="1152.2" stroke="#000" stroke-width="1.1" />
<line x1="150.0" y1="1075.3" x2="157.3" y2="1152.2" stroke="#000" stroke-width="1.3" />
<line x1="108.8" y1="1075.3" x2="104.4" y2="1152.2" stroke="#000" stroke-width="1.3" />
<line x1="158.5" y1="1075.3" x2="151.6" y2="1152.2" stroke="#000" stroke-width="1.6" />
<line x1="120.0" y1="1075.3" x2="112.3" y2="1152.2" stroke="#000" stroke-width="1.1" />
<line x1="100.5" y1="1075.3" x2="99.8" y2="1152.2" stroke="#000" stroke-width="1.6" />
<line x1="103.1" y1="1075.3" x2="99.8" y2="1152.2" stroke="#000" stroke-width="1.3" />
<line x1="122.6" y1="1075.3" x2="126.8" y2="1152.2" stroke="#000" stroke-width="1.6" />
<rect x="172.3" y="1075.3" width="70.3" height="76.9" fill="none" stroke="#000" stroke-width="1.6"/>
<line x1="178.9" y1="1075.3" x2="178.5" y2="1152.2" stroke="#000" stroke-width="1.1" />
<line x1="221.2" y1="1075.3" x2="228.0" y2="1152.2" stroke="#000" stroke-width="1.1" />
<line x1="173.3" y1="1075.3" x2="181.1" y2="1152.2" stroke="#000" stroke-width="1.3" />
<line x1="189.0" y1="1075.3" x2="200.7" y2="1152.2" stroke="#000" stroke-width="1.3" />
<line x1="173.3" y1="1075.3" x2="174.0" y2="1152.2" stroke="#000" stroke-width="1.3" />
<line x1="210.9" y1="1075.3" x2="211.1" y2="1152.2" stroke="#000" stroke-width="1.6" />
<line x1="220.7" y1="1075.3" x2="231.1" y2="1152.2" stroke="#000" stroke-width="1.6" />
<line x1="178.5" y1="1075.3" x2="181.0" y2="1152.2" stroke="#000" stroke-width="1.1" />
<line x1="211.1" y1="1075.3" x2="199.7" y2="1152.2" stroke="#000" stroke-width="1.1" />
<line x1="231.7" y1="1075.3" x2="232.8" y2="1152.2" stroke="#000" stroke-width="1.3" />
<line x1="237.9" y1="1075.3" x2="235.8" y2="1152.2" stroke="#000" stroke-width="1.6" />
<line x1="195.4" y1="1075.3" x2="194.6" y2="1152.2" stroke="#000" stroke-width="1.3" />
<line x1="211.6" y1="1075.3" x2="206.0" y2="1152.2" stroke="#000" stroke-width="1.3" />
<line x1="175.1" y1="1075.3" x2="182.2" y2="1152.2" stroke="#000" stroke-width="1.6" />
<rect x="248.8" y="1075.3" width="89.1" height="76.9" fill="none" stroke="#000" stroke-width="1.6"/>
<line x1="270.1" y1="1075.3" x2="263.4" y2="1152.2" stroke="#000" stroke-width="1.3" />
<line x1="315.0" y1="1075.3" x2="303.3" y2="1152.2" stroke="#000" stroke-width="1.3" />
<line x1="266.7" y1="1075.3" x2="256.2" y2="1152.2" stroke="#000" stroke-width="1.3" />
<line x1="278.3" y1="1075.3" x2="271.7" y2="1152.2" stroke="#000" stroke-width="1.1" />
<line x1="336.9" y1="1075.3" x2="331.4" y2="1152.2" stroke="#000" stroke-width="1.1" />
<line x1="302.4" y1="1075.3" x2="292.4" y2="1152.2" stroke="#000" stroke-width="1.3" />
<line x1="269.5" y1="1075.3" x2="260.1" y2="1152.2" stroke="#000" stroke-width="1.1" />
<line x1="260.6" y1="1075.3" x2="259.1" y2="1152.2" stroke="#000" stroke-width="1.3" />
<line x1="302.2" y1="1075.3" x2="305.8" y2="1152.2" stroke="#000" stroke-width="1.3" />
<line x1="317.6" y1="1075.3" x2="318.4" y2="1152.2" stroke="#000" stroke-width="1.3" />
<line x1="307.0" y1="1075.3" x2="313.8" y2="1152.2" stroke="#000" stroke-width="1.3" />
<line x1="321.4" y1="1075.3" x2="318.1" y2="1152.2" stroke="#000" stroke-width="1.3" />
<rect x="347.2" y="1075.3" width="46.4" height="76.9" fill="none" stroke="#000" stroke-width="1.6"/>
<line x1="375.3" y1="1075.3" x2="380.3" y2="1152.2" stroke="#000" stroke-width="1.1" />
<line x1="382.0" y1="1075.3" x2="376.3" y2="1152.2" stroke="#000" stroke-width="1.1" />
<line x1="373.9" y1="1075.3" x2="370.5" y2="1152.2" stroke="#000" stroke-width="1.6" />
<line x1="348.2" y1="1075.3" x2="350.0" y2="1152.2" stroke="#000" stroke-width="1.3" />
<rect x="399.9" y="1075.3" width="47.6" height="76.9" fill="none" stroke="#000" stroke-width="1.6"/>
<line x1="400.9" y1="1075.3" x2="402.1" y2="1152.2" stroke="#000" stroke-width="1.3" />
<line x1="404.2" y1="1075.3" x2="400.9" y2="1152.2" stroke="#000" stroke-width="1.6" />
<line x1="422.6" y1="1075.3" x2="411.6" y2="1152.2" stroke="#000" stroke-width="1.3" />
<line x1="410.5" y1="1075.3" x2="406.9" y2="1152.2" stroke="#000" stroke-width="1.1" />
<line x1="437.5" y1="1075.3" x2="436.3" y2="1152.2" stroke="#000" stroke-width="1.1" />
<rect x="458.3" y="1075.3" width="46.9" height="76.9" fill="none" stroke="#000" stroke-width="1.6"/>
<line x1="484.8" y1="1075.3" x2="479.3" y2="1152.2" stroke="#000" stroke-width="1.1" />
<line x1="475.9" y1="1075.3" x2="479.3" y2="1152.2" stroke="#000" stroke-width="1.3" />
<line x1="472.4" y1="1075.3" x2="478.2" y2="1152.2" stroke="#000" stroke-width="1.1" />
<line x1="475.6" y1="1075.3" x2="478.5" y2="1152.2" stroke="#000" stroke-width="1.3" />
<rect x="515.7" y="1075.3" width="47.2" height="76.9" fill="none" stroke="#000" stroke-width="1.6"/>
<line x1="520.2" y1="1075.3" x2="516.7" y2="1152.2" stroke="#000" stroke-width="1.3" />
<line x1="553.6" y1="1075.3" x2="552.7" y2="1152.2" stroke="#000" stroke-width="1.1" />
<line x1="520.1" y1="1075.3" x2="516.7" y2="1152.2" stroke="#000" stroke-width="1.1" />
<line x1="548.1" y1="1075.3" x2="548.0" y2="1152.2" stroke="#000" stroke-width="1.3" />
<rect x="573.4" y="1075.3" width="47.2" height="76.9" fill="none" stroke="#000" stroke-width="1.6"/>
<line x1="579.1" y1="1075.3" x2="587.2" y2="1152.2" stroke="#000" stroke-width="1.6" />
<line x1="598.4" y1="1075.3" x2="589.2" y2="1152.2" stroke="#000" stroke-width="1.3" />
<line x1="600.1" y1="1075.3" x2="609.6" y2="1152.2" stroke="#000" stroke-width="1.3" />
<line x1="601.1" y1="1075.3" x2="594.2" y2="1152.2" stroke="#000" stroke-width="1.3" />
<rect x="627.7" y="1075.3" width="46.7" height="76.9" fill="none" stroke="#000" stroke-width="1.6"/>
<line x1="638.6" y1="1075.3" x2="649.1" y2="1152.2" stroke="#000" stroke-width="1.6" />
<line x1="636.7" y1="1075.3" x2="639.8" y2="1152.2" stroke="#000" stroke-width="1.3" />
<line x1="659.0" y1="1075.3" x2="660.9" y2="1152.2" stroke="#000" stroke-width="1.6" />
<line x1="653.9" y1="1075.3" x2="660.6" y2="1152.2" stroke="#000" stroke-width="1.6" />
<line x1="653.9" y1="1075.3" x2="646.6" y2="1152.2" stroke="#000" stroke-width="1.3" />
<rect x="682.8" y="1075.3" width="88.6" height="76.9" fill="none" stroke="#000" stroke-width="1.6"/>
<line x1="746.9" y1="1075.3" x2="754.1" y2="1152.2" stroke="#000" stroke-width="1.1" />
<line x1="732.9" y1="1075.3" x2="745.1" y2="1152.2" stroke="#000" stroke-width="1.3" />
<line x1="689.3" y1="1075.3" x2="690.6" y2="1152.2" stroke="#000" stroke-width="1.1" />
<line x1="706.9" y1="1075.3" x2="712.8" y2="1152.2" stroke="#000" stroke-width="1.3" />
<line x1="694.6" y1="1075.3" x2="691.1" y2="1152.2" stroke="#000" stroke-width="1.6" />
<line x1="754.5" y1="1075.3" x2="752.5" y2="1152.2" stroke="#000" stroke-width="1.3" />
<line x1="750.1" y1="1075.3" x2="750.6" y2="1152.2" stroke="#000" stroke-width="1.3" />
<line x1="722.1" y1="1075.3" x2="714.1" y2="1152.2" stroke="#000" stroke-width="1.1" />
<line x1="726.6" y1="1075.3" x2="727.5" y2="1152.2" stroke="#000" stroke-width="1.6" />
<line x1="737.3" y1="1075.3" x2="725.5" y2="1152.2" stroke="#000" stroke-width="1.6" />
<line x1="701.1" y1="1075.3" x2="714.0" y2="1152.2" stroke="#000" stroke-width="1.1" />
<line x1="760.8" y1="1075.3" x2="770.4" y2="1152.2" stroke="#000" stroke-width="1.6" />
<rect x="778.5" y="1075.3" width="70.3" height="76.9" fill="none" stroke="#000" stroke-width="1.6"/>
<line x1="791.5" y1="1075.3" x2="804.2" y2="1152.2" stroke="#000" stroke-width="1.3" />
<line x1="835.4" y1="1075.3" x2="842.0" y2="1152.2" stroke="#000" stroke-width="1.6" />
<line x1="796.5" y1="1075.3" x2="805.1" y2="1152.2" stroke="#000" stroke-width="1.3" />
<line x1="815.6" y1="1075.3" x2="809.8" y2="1152.2" stroke="#000" stroke-width="1.3" />
<line x1="800.6" y1="1075.3" x2="790.6" y2="1152.2" stroke="#000" stroke-width="1.1" />
<line x1="847.8" y1="1075.3" x2="841.8" y2="1152.2" stroke="#000" stroke-width="1.3" />
<line x1="829.6" y1="1075.3" x2="841.6" y2="1152.2" stroke="#000" stroke-width="1.1" />
<line x1="804.0" y1="1075.3" x2="806.3" y2="1152.2" stroke="#000" stroke-width="1.3" />
<line x1="812.9" y1="1075.3" x2="820.1" y2="1152.2" stroke="#000" stroke-width="1.3" />
<line x1="807.0" y1="1075.3" x2="817.7" y2="1152.2" stroke="#000" stroke-width="1.6" />
<line x1="825.2" y1="1075.3" x2="816.9" y2="1152.2" stroke="#000" stroke-width="1.3" />
<line x1="812.6" y1="1075.3" x2="810.1" y2="1152.2" stroke="#000" stroke-width="1.6" />
<line x1="828.8" y1="1075.3" x2="816.9" y2="1152.2" stroke="#000" stroke-width="1.1" />
<line x1="799.4" y1="1075.3" x2="806.8" y2="1152.2" stroke="#000" stroke-width="1.3" />
<rect x="852.7" y="1075.3" width="69.5" height="76.9" fill="none" stroke="#000" stroke-width="1.6"/>
<line x1="919.6" y1="1075.3" x2="921.2" y2="1152.2" stroke="#000" stroke-width="1.1" />
<line x1="891.3" y1="1075.3" x2="898.1" y2="1152.2" stroke="#000" stroke-width="1.3" />
<line x1="913.5" y1="1075.3" x2="914.8" y2="1152.2" stroke="#000" stroke-width="1.3" />
<line x1="885.7" y1="1075.3" x2="894.6" y2="1152.2" stroke="#000" stroke-width="1.3" />
<line x1="863.5" y1="1075.3" x2="874.1" y2="1152.2" stroke="#000" stroke-width="1.1" />
<line x1="909.5" y1="1075.3" x2="896.7" y2="1152.2" stroke="#000" stroke-width="1.6" />
<line x1="859.1" y1="1075.3" x2="857.3" y2="1152.2" stroke="#000" stroke-width="1.1" />
<line x1="909.1" y1="1075.3" x2="918.1" y2="1152.2" stroke="#000" stroke-width="1.1" />
<line x1="877.4" y1="1075.3" x2="880.4" y2="1152.2" stroke="#000" stroke-width="1.3" />
<line x1="900.5" y1="1075.3" x2="889.7" y2="1152.2" stroke="#000" stroke-width="1.6" />
<line x1="911.6" y1="1075.3" x2="906.5" y2="1152.2" stroke="#000" stroke-width="1.3" />
<line x1="866.7" y1="1075.3" x2="871.5" y2="1152.2" stroke="#000" stroke-width="1.3" />
<line x1="867.8" y1="1075.3" x2="868.9" y2="1152.2" stroke="#000" stroke-width="1.1" />
<line x1="921.2" y1="1075.3" x2="917.6" y2="1152.2" stroke="#000" stroke-width="1.3" />
<line x1="853.8" y1="1075.3" x2="858.8" y2="1152.2" stroke="#000" stroke-width="1.6" />
<line x1="853.7" y1="1075.3" x2="858.2" y2="1152.2" stroke="#000" stroke-width="1.6" />
<line x1="880.3" y1="1075.3" x2="879.3" y2="1152.2" stroke="#000" stroke-width="1.1" />
<line x1="885.2" y1="1075.3" x2="897.8" y2="1152.2" stroke="#000" stroke-width="1.6" />
<line x1="114.6" y1="965.2" x2="113.3" y2="1044.0" stroke="#000" stroke-width="1.8" />
<line x1="108.0" y1="965.2" x2="109.7" y2="1044.0" stroke="#000" stroke-width="1.8" />
<line x1="121.4" y1="965.2" x2="123.5" y2="1044.0" stroke="#000" stroke-width="1.8" />
<line x1="118.9" y1="965.2" x2="121.4" y2="1044.0" stroke="#000" stroke-width="1.8" />
<line x1="108.7" y1="965.2" x2="109.5" y2="1044.0" stroke="#000" stroke-width="1.8" />
<line x1="128.7" y1="1075.3" x2="130.2" y2="1152.2" stroke="#000" stroke-width="1.8" />
<line x1="129.1" y1="1075.3" x2="130.6" y2="1152.2" stroke="#000" stroke-width="1.8" />
<line x1="121.1" y1="1075.3" x2="118.6" y2="1152.2" stroke="#000" stroke-width="1.8" />
<line x1="113.8" y1="1075.3" x2="113.0" y2="1152.2" stroke="#000" stroke-width="1.8" />
<line x1="112.2" y1="1075.3" x2="111.0" y2="1152.2" stroke="#000" stroke-width="1.8" />
<line x1="902.7" y1="965.2" x2="902.5" y2="1044.0" stroke="#000" stroke-width="1.8" />
<line x1="908.9" y1="965.2" x2="908.6" y2="1044.0" stroke="#000" stroke-width="1.8" />
<line x1="904.5" y1="965.2" x2="902.1" y2="1044.0" stroke="#000" stroke-width="1.8" />
<line x1="908.6" y1="965.2" x2="906.4" y2="1044.0" stroke="#000" stroke-width="1.8" />
<line x1="908.7" y1="965.2" x2="906.8" y2="1044.0" stroke="#000" stroke-width="1.8" />
<line x1="897.2" y1="1075.3" x2="894.5" y2="1152.2" stroke="#000" stroke-width="1.8" />
<line x1="903.2" y1="1075.3" x2="904.4" y2="1152.2" stroke="#000" stroke-width="1.8" />
<line x1="895.2" y1="1075.3" x2="892.4" y2="1152.2" stroke="#000" stroke-width="1.8" />
<line x1="914.7" y1="1075.3" x2="914.3" y2="1152.2" stroke="#000" stroke-width="1.8" />
<line x1="910.0" y1="1075.3" x2="909.0" y2="1152.2" stroke="#000" stroke-width="1.8" />
<line x1="109.0" y1="965.2" x2="112.0" y2="1044.0" stroke="#000" stroke-width="3" />
<line x1="115.0" y1="965.2" x2="117.0" y2="1044.0" stroke="#000" stroke-width="2.6" />
<line x1="119.0" y1="965.2" x2="121.0" y2="1044.0" stroke="#000" stroke-width="2" />
<line x1="117.0" y1="1075.3" x2="119.0" y2="1152.2" stroke="#000" stroke-width="2.8" />
<line x1="122.0" y1="1075.3" x2="125.0" y2="1152.2" stroke="#000" stroke-width="2.4" />
<line x1="903.0" y1="965.2" x2="905.0" y2="1044.0" stroke="#000" stroke-width="3" />
<line x1="908.0" y1="965.2" x2="911.0" y2="1044.0" stroke="#000" stroke-width="2.6" />
<line x1="896.0" y1="1075.3" x2="898.0" y2="1152.2" stroke="#000" stroke-width="2.8" />
<line x1="902.0" y1="1075.3" x2="905.0" y2="1152.2" stroke="#000" stroke-width="2.4" />
<rect x="88.8" y="1044.2" width="841.8" height="31.1" fill="#fff" stroke="#000" stroke-width="1.6"/>
<path d="M891,758.7 L900,748 L914.2,741.3 L922,742 L926.7,745.1 L925.8,903.8 L915,914 L900.6,922.1 L892,920 L889,919.2 Z" fill="none" stroke="#000" stroke-width="1.3"/>
<path d="M891,758.7 L926.2,748.5 M891.5,759 L900.8,921.5 L924.8,749 M926,750 L916.5,914 M889.8,760 L890,918" fill="none" stroke="#000" stroke-width="1"/>
<path d="M918,836 L944,846 L946.5,849.5 L940,852 L936,849 L917.5,840 Z" fill="#fff" stroke="#000" stroke-width="1.1"/>
<rect x="913" y="833" width="2.5" height="3" fill="#000"/>
<text x="931" y="931.8" font-family="Liberation Serif" font-size="31" fill="#000" text-anchor="start" textLength="102" lengthAdjust="spacingAndGlyphs" >A=44PCS</text>
<line x1="909.5" y1="925.0" x2="909.5" y2="966.0" stroke="#000" stroke-width="1.2" />
<rect x="1389.5" y="286.2" width="80.4" height="19.9" fill="none" stroke="#000" stroke-width="1.1"/>
<line x1="1389.5" y1="271.3" x2="1389.5" y2="286.2" stroke="#000" stroke-width="1.0" />
<line x1="1469.9" y1="271.3" x2="1469.9" y2="286.2" stroke="#000" stroke-width="1.0" />
<line x1="1389.5" y1="280.3" x2="1469.9" y2="280.3" stroke="#000" stroke-width="1.0" />
<polygon points="1389.5,280.3 1398.0,278.7 1398.0,281.9" fill="#000"/>
<polygon points="1469.9,280.3 1461.4,281.9 1461.4,278.7" fill="#000"/>
<text x="1430" y="279.6" font-family="Liberation Serif" font-size="20" fill="#000" text-anchor="middle" textLength="37" lengthAdjust="spacingAndGlyphs" >ø180</text>
<line x1="1372.0" y1="306.1" x2="1389.5" y2="306.1" stroke="#000" stroke-width="1.0" />
<line x1="1381.2" y1="286.2" x2="1381.2" y2="306.1" stroke="#000" stroke-width="1.0" />
<polygon points="1381.2,286.2 1382.5,292.2 1379.9,292.2" fill="#000"/>
<polygon points="1381.2,306.1 1379.9,300.1 1382.5,300.1" fill="#000"/>
<text x="1382.3" y="296.5" font-family="Liberation Serif" font-size="20" fill="#000" text-anchor="middle" textLength="17.8" lengthAdjust="spacingAndGlyphs" transform="rotate(-90 1382.3 296.5)" >45</text>
<line x1="1197.7" y1="286.2" x2="1389.5" y2="286.2" stroke="#000" stroke-width="1.0" />
<line x1="1397.8" y1="306.7" x2="1262.2" y2="481.3" stroke="#000" stroke-width="0.9" />
<line x1="1462.3" y1="306.7" x2="1596.2" y2="483.0" stroke="#000" stroke-width="0.9" />
<line x1="1206.6" y1="286.2" x2="1206.6" y2="530.3" stroke="#000" stroke-width="1.0" />
<polygon points="1206.6,286.2 1208.2,294.7 1205.0,294.7" fill="#000"/>
<polygon points="1206.6,530.3 1205.0,521.8 1208.2,521.8" fill="#000"/>
<text x="1208.2" y="407.8" font-family="Liberation Serif" font-size="20" fill="#000" text-anchor="middle" textLength="74.5" lengthAdjust="spacingAndGlyphs" transform="rotate(-90 1208.2 407.8)" >250–1000</text>
<line x1="1242.4" y1="286.2" x2="1242.4" y2="449.9" stroke="#000" stroke-width="1.0" />
<polygon points="1242.4,286.2 1244.0,294.7 1240.8,294.7" fill="#000"/>
<polygon points="1242.4,449.9 1240.8,441.4 1244.0,441.4" fill="#000"/>
<text x="1243.2" y="367.7" font-family="Liberation Serif" font-size="20" fill="#000" text-anchor="middle" textLength="28.2" lengthAdjust="spacingAndGlyphs" transform="rotate(-90 1243.2 367.7)" >820</text>
<line x1="1214.2" y1="449.9" x2="1252.0" y2="449.9" stroke="#000" stroke-width="1.0" />
<line x1="1197.7" y1="530.3" x2="1252.0" y2="530.3" stroke="#000" stroke-width="1.0" />
<line x1="1222.5" y1="449.9" x2="1222.5" y2="530.3" stroke="#000" stroke-width="1.0" />
<polygon points="1222.5,449.9 1224.1,458.4 1220.9,458.4" fill="#000"/>
<polygon points="1222.5,530.3 1220.9,521.8 1224.1,521.8" fill="#000"/>
<text x="1223" y="489.5" font-family="Liberation Serif" font-size="20" fill="#000" text-anchor="middle" textLength="26" lengthAdjust="spacingAndGlyphs" transform="rotate(-90 1223 489.5)" >180</text>
<line x1="1242.4" y1="449.9" x2="1242.4" y2="530.3" stroke="#000" stroke-width="1.0" />
<line x1="1236.0" y1="484.0" x2="1250.0" y2="484.0" stroke="#000" stroke-width="1.0" />
<line x1="1236.0" y1="497.2" x2="1250.0" y2="497.2" stroke="#000" stroke-width="1.0" />
<polygon points="1242.4,484.0 1241.1,478.0 1243.7,478.0" fill="#000"/>
<polygon points="1242.4,497.2 1241.1,491.2 1243.7,491.2" fill="#000"/>
<polygon points="1242.4,449.9 1243.7,455.9 1241.1,455.9" fill="#000"/>
<polygon points="1242.4,530.3 1241.1,524.3 1243.7,524.3" fill="#000"/>
<text x="1242.3" y="464.1" font-family="Liberation Serif" font-size="20" fill="#000" text-anchor="middle" textLength="13.5" lengthAdjust="spacingAndGlyphs" transform="rotate(-90 1242.3 464.1)" >77</text>
<text x="1242.3" y="489" font-family="Liberation Serif" font-size="20" fill="#000" text-anchor="middle" textLength="13.5" lengthAdjust="spacingAndGlyphs" transform="rotate(-90 1242.3 489)" >30</text>
<text x="1242.3" y="512.1" font-family="Liberation Serif" font-size="20" fill="#000" text-anchor="middle" textLength="14.6" lengthAdjust="spacingAndGlyphs" transform="rotate(-90 1242.3 512.1)" >73</text>
<rect x="1253.4" y="449.9" width="44.3" height="34.1" fill="none" stroke="#000" stroke-width="1.2"/>
<line x1="1280.9" y1="449.9" x2="1284.7" y2="484.0" stroke="#000" stroke-width="1.3" />
<line x1="1294.7" y1="449.9" x2="1297.2" y2="484.0" stroke="#000" stroke-width="1.3" />
<line x1="1255.2" y1="449.9" x2="1254.6" y2="484.0" stroke="#000" stroke-width="0.9" />
<line x1="1282.0" y1="449.9" x2="1288.4" y2="484.0" stroke="#000" stroke-width="0.9" />
<line x1="1270.0" y1="449.9" x2="1275.9" y2="484.0" stroke="#000" stroke-width="1.1" />
<line x1="1277.4" y1="449.9" x2="1278.6" y2="484.0" stroke="#000" stroke-width="0.9" />
<line x1="1285.6" y1="449.9" x2="1284.1" y2="484.0" stroke="#000" stroke-width="0.9" />
<line x1="1293.6" y1="449.9" x2="1297.2" y2="484.0" stroke="#000" stroke-width="0.9" />
<line x1="1286.9" y1="449.9" x2="1280.0" y2="484.0" stroke="#000" stroke-width="1.3" />
<line x1="1280.6" y1="449.9" x2="1274.7" y2="484.0" stroke="#000" stroke-width="0.9" />
<line x1="1296.0" y1="449.9" x2="1288.1" y2="484.0" stroke="#000" stroke-width="0.9" />
<line x1="1295.5" y1="449.9" x2="1290.1" y2="484.0" stroke="#000" stroke-width="0.9" />
<line x1="1266.4" y1="449.9" x2="1273.8" y2="484.0" stroke="#000" stroke-width="1.3" />
<line x1="1291.8" y1="449.9" x2="1293.8" y2="484.0" stroke="#000" stroke-width="0.9" />
<line x1="1294.6" y1="449.9" x2="1297.2" y2="484.0" stroke="#000" stroke-width="1.1" />
<line x1="1266.8" y1="449.9" x2="1264.6" y2="484.0" stroke="#000" stroke-width="0.9" />
<line x1="1294.4" y1="449.9" x2="1290.6" y2="484.0" stroke="#000" stroke-width="1.1" />
<line x1="1266.9" y1="449.9" x2="1268.6" y2="484.0" stroke="#000" stroke-width="0.9" />
<line x1="1279.7" y1="449.9" x2="1283.0" y2="484.0" stroke="#000" stroke-width="0.9" />
<line x1="1267.3" y1="449.9" x2="1272.4" y2="484.0" stroke="#000" stroke-width="1.1" />
<line x1="1284.1" y1="449.9" x2="1279.0" y2="484.0" stroke="#000" stroke-width="1.1" />
<line x1="1284.4" y1="449.9" x2="1277.3" y2="484.0" stroke="#000" stroke-width="0.9" />
<rect x="1300.4" y="449.9" width="34.8" height="34.1" fill="none" stroke="#000" stroke-width="1.2"/>
<line x1="1333.0" y1="449.9" x2="1330.7" y2="484.0" stroke="#000" stroke-width="1.1" />
<line x1="1301.5" y1="449.9" x2="1306.1" y2="484.0" stroke="#000" stroke-width="1.1" />
<line x1="1313.6" y1="449.9" x2="1319.1" y2="484.0" stroke="#000" stroke-width="1.1" />
<line x1="1302.5" y1="449.9" x2="1300.9" y2="484.0" stroke="#000" stroke-width="0.9" />
<line x1="1304.9" y1="449.9" x2="1300.9" y2="484.0" stroke="#000" stroke-width="1.1" />
<line x1="1312.5" y1="449.9" x2="1310.2" y2="484.0" stroke="#000" stroke-width="1.3" />
<line x1="1309.4" y1="449.9" x2="1308.8" y2="484.0" stroke="#000" stroke-width="1.3" />
<line x1="1326.2" y1="449.9" x2="1331.0" y2="484.0" stroke="#000" stroke-width="1.1" />
<line x1="1302.1" y1="449.9" x2="1309.3" y2="484.0" stroke="#000" stroke-width="0.9" />
<rect x="1337.8" y="449.9" width="20.6" height="34.1" fill="none" stroke="#000" stroke-width="1.2"/>
<line x1="1342.4" y1="449.9" x2="1342.6" y2="484.0" stroke="#000" stroke-width="1.1" />
<line x1="1356.3" y1="449.9" x2="1354.0" y2="484.0" stroke="#000" stroke-width="1.3" />
<line x1="1349.0" y1="449.9" x2="1346.3" y2="484.0" stroke="#000" stroke-width="1.1" />
<line x1="1344.3" y1="449.9" x2="1348.6" y2="484.0" stroke="#000" stroke-width="1.3" />
<line x1="1341.2" y1="449.9" x2="1343.9" y2="484.0" stroke="#000" stroke-width="1.1" />
<line x1="1341.5" y1="449.9" x2="1338.3" y2="484.0" stroke="#000" stroke-width="1.3" />
<rect x="1358.9" y="449.9" width="20.6" height="34.1" fill="none" stroke="#000" stroke-width="1.2"/>
<line x1="1369.9" y1="449.9" x2="1368.5" y2="484.0" stroke="#000" stroke-width="0.9" />
<line x1="1373.9" y1="449.9" x2="1371.7" y2="484.0" stroke="#000" stroke-width="1.1" />
<line x1="1368.3" y1="449.9" x2="1367.2" y2="484.0" stroke="#000" stroke-width="0.9" />
<line x1="1378.6" y1="449.9" x2="1379.0" y2="484.0" stroke="#000" stroke-width="1.1" />
<line x1="1366.0" y1="449.9" x2="1361.7" y2="484.0" stroke="#000" stroke-width="1.3" />
<rect x="1383.2" y="449.9" width="20.6" height="34.1" fill="none" stroke="#000" stroke-width="1.2"/>
<line x1="1394.8" y1="449.9" x2="1389.5" y2="484.0" stroke="#000" stroke-width="1.1" />
<line x1="1385.8" y1="449.9" x2="1384.8" y2="484.0" stroke="#000" stroke-width="0.9" />
<line x1="1384.9" y1="449.9" x2="1383.7" y2="484.0" stroke="#000" stroke-width="0.9" />
<line x1="1392.6" y1="449.9" x2="1399.8" y2="484.0" stroke="#000" stroke-width="0.9" />
<line x1="1402.8" y1="449.9" x2="1402.2" y2="484.0" stroke="#000" stroke-width="1.1" />
<rect x="1406.9" y="449.9" width="21.1" height="34.1" fill="none" stroke="#000" stroke-width="1.2"/>
<line x1="1421.2" y1="449.9" x2="1418.6" y2="484.0" stroke="#000" stroke-width="1.1" />
<line x1="1413.2" y1="449.9" x2="1411.8" y2="484.0" stroke="#000" stroke-width="0.9" />
<line x1="1409.7" y1="449.9" x2="1414.4" y2="484.0" stroke="#000" stroke-width="1.3" />
<line x1="1426.7" y1="449.9" x2="1427.5" y2="484.0" stroke="#000" stroke-width="1.1" />
<line x1="1424.8" y1="449.9" x2="1420.1" y2="484.0" stroke="#000" stroke-width="1.1" />
<rect x="1432.0" y="449.9" width="20.6" height="34.1" fill="none" stroke="#000" stroke-width="1.2"/>
<line x1="1437.8" y1="449.9" x2="1441.9" y2="484.0" stroke="#000" stroke-width="1.3" />
<line x1="1439.6" y1="449.9" x2="1443.7" y2="484.0" stroke="#000" stroke-width="1.1" />
<line x1="1446.1" y1="449.9" x2="1448.5" y2="484.0" stroke="#000" stroke-width="1.1" />
<line x1="1439.6" y1="449.9" x2="1442.6" y2="484.0" stroke="#000" stroke-width="1.1" />
<line x1="1448.9" y1="449.9" x2="1445.5" y2="484.0" stroke="#000" stroke-width="1.3" />
<rect x="1455.9" y="449.9" width="20.6" height="34.1" fill="none" stroke="#000" stroke-width="1.2"/>
<line x1="1470.4" y1="449.9" x2="1476.0" y2="484.0" stroke="#000" stroke-width="1.1" />
<line x1="1469.1" y1="449.9" x2="1470.3" y2="484.0" stroke="#000" stroke-width="0.9" />
<line x1="1465.7" y1="449.9" x2="1469.6" y2="484.0" stroke="#000" stroke-width="1.1" />
<line x1="1469.6" y1="449.9" x2="1469.0" y2="484.0" stroke="#000" stroke-width="1.3" />
<line x1="1469.1" y1="449.9" x2="1473.4" y2="484.0" stroke="#000" stroke-width="1.1" />
<rect x="1480.2" y="449.9" width="20.6" height="34.1" fill="none" stroke="#000" stroke-width="1.2"/>
<line x1="1486.1" y1="449.9" x2="1483.8" y2="484.0" stroke="#000" stroke-width="1.1" />
<line x1="1487.6" y1="449.9" x2="1492.5" y2="484.0" stroke="#000" stroke-width="1.3" />
<line x1="1489.5" y1="449.9" x2="1487.6" y2="484.0" stroke="#000" stroke-width="1.1" />
<line x1="1490.9" y1="449.9" x2="1491.3" y2="484.0" stroke="#000" stroke-width="0.9" />
<line x1="1484.6" y1="449.9" x2="1482.6" y2="484.0" stroke="#000" stroke-width="1.1" />
<line x1="1486.2" y1="449.9" x2="1480.7" y2="484.0" stroke="#000" stroke-width="1.3" />
<rect x="1501.9" y="449.9" width="19.5" height="34.1" fill="none" stroke="#000" stroke-width="1.2"/>
<line x1="1515.9" y1="449.9" x2="1511.4" y2="484.0" stroke="#000" stroke-width="1.3" />
<line x1="1512.0" y1="449.9" x2="1517.9" y2="484.0" stroke="#000" stroke-width="1.1" />
<line x1="1513.9" y1="449.9" x2="1517.7" y2="484.0" stroke="#000" stroke-width="1.3" />
<line x1="1507.4" y1="449.9" x2="1514.2" y2="484.0" stroke="#000" stroke-width="0.9" />
<line x1="1505.4" y1="449.9" x2="1504.6" y2="484.0" stroke="#000" stroke-width="1.3" />
<line x1="1505.7" y1="449.9" x2="1509.3" y2="484.0" stroke="#000" stroke-width="0.9" />
<rect x="1524.4" y="449.9" width="33.8" height="34.1" fill="none" stroke="#000" stroke-width="1.2"/>
<line x1="1545.6" y1="449.9" x2="1538.3" y2="484.0" stroke="#000" stroke-width="1.1" />
<line x1="1557.0" y1="449.9" x2="1551.7" y2="484.0" stroke="#000" stroke-width="0.9" />
<line x1="1528.5" y1="449.9" x2="1536.0" y2="484.0" stroke="#000" stroke-width="1.1" />
<line x1="1531.2" y1="449.9" x2="1524.9" y2="484.0" stroke="#000" stroke-width="1.1" />
<line x1="1536.4" y1="449.9" x2="1539.0" y2="484.0" stroke="#000" stroke-width="0.9" />
<line x1="1544.3" y1="449.9" x2="1540.1" y2="484.0" stroke="#000" stroke-width="1.1" />
<line x1="1524.9" y1="449.9" x2="1524.9" y2="484.0" stroke="#000" stroke-width="1.1" />
<line x1="1553.0" y1="449.9" x2="1557.7" y2="484.0" stroke="#000" stroke-width="1.3" />
<line x1="1552.2" y1="449.9" x2="1550.2" y2="484.0" stroke="#000" stroke-width="0.9" />
<line x1="1542.9" y1="449.9" x2="1539.8" y2="484.0" stroke="#000" stroke-width="1.1" />
<line x1="1542.8" y1="449.9" x2="1540.2" y2="484.0" stroke="#000" stroke-width="1.3" />
<line x1="1534.5" y1="449.9" x2="1532.1" y2="484.0" stroke="#000" stroke-width="0.9" />
<rect x="1560.9" y="449.9" width="45.5" height="34.1" fill="none" stroke="#000" stroke-width="1.2"/>
<line x1="1580.1" y1="449.9" x2="1585.1" y2="484.0" stroke="#000" stroke-width="1.3" />
<line x1="1585.4" y1="449.9" x2="1584.8" y2="484.0" stroke="#000" stroke-width="0.9" />
<line x1="1587.9" y1="449.9" x2="1588.9" y2="484.0" stroke="#000" stroke-width="0.9" />
<line x1="1604.5" y1="449.9" x2="1605.9" y2="484.0" stroke="#000" stroke-width="1.1" />
<line x1="1597.9" y1="449.9" x2="1600.5" y2="484.0" stroke="#000" stroke-width="1.1" />
<line x1="1566.2" y1="449.9" x2="1567.3" y2="484.0" stroke="#000" stroke-width="1.3" />
<line x1="1585.4" y1="449.9" x2="1582.6" y2="484.0" stroke="#000" stroke-width="1.3" />
<line x1="1578.1" y1="449.9" x2="1577.0" y2="484.0" stroke="#000" stroke-width="0.9" />
<line x1="1583.4" y1="449.9" x2="1583.0" y2="484.0" stroke="#000" stroke-width="1.3" />
<line x1="1578.3" y1="449.9" x2="1585.7" y2="484.0" stroke="#000" stroke-width="0.9" />
<line x1="1587.9" y1="449.9" x2="1584.1" y2="484.0" stroke="#000" stroke-width="1.1" />
<line x1="1583.5" y1="449.9" x2="1582.1" y2="484.0" stroke="#000" stroke-width="1.1" />
<line x1="1603.5" y1="449.9" x2="1600.4" y2="484.0" stroke="#000" stroke-width="1.1" />
<line x1="1567.8" y1="449.9" x2="1561.4" y2="484.0" stroke="#000" stroke-width="1.3" />
<line x1="1589.1" y1="449.9" x2="1588.2" y2="484.0" stroke="#000" stroke-width="1.1" />
<line x1="1563.2" y1="449.9" x2="1561.4" y2="484.0" stroke="#000" stroke-width="1.1" />
<line x1="1562.0" y1="449.9" x2="1562.5" y2="484.0" stroke="#000" stroke-width="1.1" />
<line x1="1572.2" y1="449.9" x2="1571.8" y2="484.0" stroke="#000" stroke-width="0.9" />
<line x1="1572.3" y1="449.9" x2="1568.6" y2="484.0" stroke="#000" stroke-width="0.9" />
<line x1="1593.5" y1="449.9" x2="1590.1" y2="484.0" stroke="#000" stroke-width="1.1" />
<line x1="1588.5" y1="449.9" x2="1588.1" y2="484.0" stroke="#000" stroke-width="1.3" />
<line x1="1599.8" y1="449.9" x2="1605.9" y2="484.0" stroke="#000" stroke-width="0.9" />
<line x1="1562.1" y1="449.9" x2="1561.4" y2="484.0" stroke="#000" stroke-width="1.1" />
<line x1="1585.1" y1="449.9" x2="1582.5" y2="484.0" stroke="#000" stroke-width="1.1" />
<rect x="1253.4" y="497.2" width="30.1" height="33.1" fill="none" stroke="#000" stroke-width="1.2"/>
<line x1="1275.2" y1="497.2" x2="1267.6" y2="530.3" stroke="#000" stroke-width="1.1" />
<line x1="1264.4" y1="497.2" x2="1268.3" y2="530.3" stroke="#000" stroke-width="1.3" />
<line x1="1257.8" y1="497.2" x2="1253.9" y2="530.3" stroke="#000" stroke-width="1.3" />
<line x1="1267.2" y1="497.2" x2="1273.8" y2="530.3" stroke="#000" stroke-width="1.3" />
<line x1="1269.8" y1="497.2" x2="1262.0" y2="530.3" stroke="#000" stroke-width="1.1" />
<line x1="1271.2" y1="497.2" x2="1274.2" y2="530.3" stroke="#000" stroke-width="1.3" />
<line x1="1272.8" y1="497.2" x2="1278.5" y2="530.3" stroke="#000" stroke-width="1.1" />
<line x1="1267.7" y1="497.2" x2="1270.7" y2="530.3" stroke="#000" stroke-width="1.3" />
<line x1="1259.6" y1="497.2" x2="1256.4" y2="530.3" stroke="#000" stroke-width="0.9" />
<line x1="1262.7" y1="497.2" x2="1254.8" y2="530.3" stroke="#000" stroke-width="1.1" />
<line x1="1270.8" y1="497.2" x2="1273.2" y2="530.3" stroke="#000" stroke-width="1.1" />
<line x1="1280.4" y1="497.2" x2="1274.7" y2="530.3" stroke="#000" stroke-width="1.1" />
<line x1="1274.1" y1="497.2" x2="1280.4" y2="530.3" stroke="#000" stroke-width="1.1" />
<line x1="1269.6" y1="497.2" x2="1268.4" y2="530.3" stroke="#000" stroke-width="1.3" />
<line x1="1277.5" y1="497.2" x2="1270.6" y2="530.3" stroke="#000" stroke-width="0.9" />
<line x1="1261.7" y1="497.2" x2="1255.0" y2="530.3" stroke="#000" stroke-width="0.9" />
<line x1="1273.2" y1="497.2" x2="1265.6" y2="530.3" stroke="#000" stroke-width="1.3" />
<line x1="1266.4" y1="497.2" x2="1259.5" y2="530.3" stroke="#000" stroke-width="1.1" />
<rect x="1285.1" y="497.2" width="30.0" height="33.1" fill="none" stroke="#000" stroke-width="1.2"/>
<line x1="1305.9" y1="497.2" x2="1298.7" y2="530.3" stroke="#000" stroke-width="0.9" />
<line x1="1292.0" y1="497.2" x2="1294.3" y2="530.3" stroke="#000" stroke-width="0.9" />
<line x1="1306.3" y1="497.2" x2="1300.4" y2="530.3" stroke="#000" stroke-width="1.1" />
<line x1="1306.1" y1="497.2" x2="1305.1" y2="530.3" stroke="#000" stroke-width="0.9" />
<line x1="1303.3" y1="497.2" x2="1301.9" y2="530.3" stroke="#000" stroke-width="0.9" />
<line x1="1287.5" y1="497.2" x2="1285.6" y2="530.3" stroke="#000" stroke-width="1.3" />
<line x1="1288.7" y1="497.2" x2="1286.8" y2="530.3" stroke="#000" stroke-width="0.9" />
<line x1="1293.7" y1="497.2" x2="1294.9" y2="530.3" stroke="#000" stroke-width="0.9" />
<line x1="1307.1" y1="497.2" x2="1313.2" y2="530.3" stroke="#000" stroke-width="0.9" />
<line x1="1285.9" y1="497.2" x2="1285.6" y2="530.3" stroke="#000" stroke-width="1.3" />
<rect x="1317.8" y="497.2" width="38.5" height="33.1" fill="none" stroke="#000" stroke-width="1.2"/>
<line x1="1340.8" y1="497.2" x2="1340.6" y2="530.3" stroke="#000" stroke-width="1.3" />
<line x1="1332.3" y1="497.2" x2="1325.2" y2="530.3" stroke="#000" stroke-width="1.3" />
<line x1="1329.4" y1="497.2" x2="1330.5" y2="530.3" stroke="#000" stroke-width="1.3" />
<line x1="1337.3" y1="497.2" x2="1343.8" y2="530.3" stroke="#000" stroke-width="1.3" />
<line x1="1338.9" y1="497.2" x2="1334.5" y2="530.3" stroke="#000" stroke-width="0.9" />
<line x1="1339.0" y1="497.2" x2="1335.1" y2="530.3" stroke="#000" stroke-width="1.1" />
<line x1="1337.7" y1="497.2" x2="1331.8" y2="530.3" stroke="#000" stroke-width="0.9" />
<line x1="1350.7" y1="497.2" x2="1349.9" y2="530.3" stroke="#000" stroke-width="1.1" />
<line x1="1325.0" y1="497.2" x2="1328.4" y2="530.3" stroke="#000" stroke-width="1.3" />
<line x1="1331.1" y1="497.2" x2="1332.3" y2="530.3" stroke="#000" stroke-width="0.9" />
<rect x="1359.5" y="497.2" width="20.5" height="33.1" fill="none" stroke="#000" stroke-width="1.2"/>
<line x1="1361.8" y1="497.2" x2="1360.0" y2="530.3" stroke="#000" stroke-width="1.3" />
<line x1="1368.8" y1="497.2" x2="1367.3" y2="530.3" stroke="#000" stroke-width="1.1" />
<line x1="1369.4" y1="497.2" x2="1366.8" y2="530.3" stroke="#000" stroke-width="1.3" />
<line x1="1360.6" y1="497.2" x2="1363.8" y2="530.3" stroke="#000" stroke-width="0.9" />
<line x1="1376.5" y1="497.2" x2="1379.5" y2="530.3" stroke="#000" stroke-width="1.1" />
<rect x="1382.1" y="497.2" width="21.7" height="33.1" fill="none" stroke="#000" stroke-width="1.2"/>
<line x1="1396.7" y1="497.2" x2="1392.5" y2="530.3" stroke="#000" stroke-width="0.9" />
<line x1="1384.3" y1="497.2" x2="1390.6" y2="530.3" stroke="#000" stroke-width="1.1" />
<line x1="1399.6" y1="497.2" x2="1394.1" y2="530.3" stroke="#000" stroke-width="1.3" />
<line x1="1390.4" y1="497.2" x2="1395.5" y2="530.3" stroke="#000" stroke-width="1.1" />
<line x1="1389.5" y1="497.2" x2="1391.2" y2="530.3" stroke="#000" stroke-width="1.1" />
<rect x="1406.9" y="497.2" width="21.1" height="33.1" fill="none" stroke="#000" stroke-width="1.2"/>
<line x1="1423.4" y1="497.2" x2="1421.6" y2="530.3" stroke="#000" stroke-width="1.3" />
<line x1="1424.1" y1="497.2" x2="1426.3" y2="530.3" stroke="#000" stroke-width="1.3" />
<line x1="1416.1" y1="497.2" x2="1421.3" y2="530.3" stroke="#000" stroke-width="1.3" />
<line x1="1408.1" y1="497.2" x2="1415.4" y2="530.3" stroke="#000" stroke-width="0.9" />
<line x1="1422.3" y1="497.2" x2="1420.7" y2="530.3" stroke="#000" stroke-width="0.9" />
<rect x="1432.0" y="497.2" width="20.6" height="33.1" fill="none" stroke="#000" stroke-width="1.2"/>
<line x1="1433.2" y1="497.2" x2="1432.5" y2="530.3" stroke="#000" stroke-width="0.9" />
<line x1="1433.3" y1="497.2" x2="1438.9" y2="530.3" stroke="#000" stroke-width="1.1" />
<line x1="1445.5" y1="497.2" x2="1443.3" y2="530.3" stroke="#000" stroke-width="1.1" />
<line x1="1441.7" y1="497.2" x2="1447.3" y2="530.3" stroke="#000" stroke-width="1.3" />
<line x1="1450.6" y1="497.2" x2="1448.0" y2="530.3" stroke="#000" stroke-width="1.1" />
<rect x="1456.4" y="497.2" width="20.1" height="33.1" fill="none" stroke="#000" stroke-width="1.2"/>
<line x1="1458.8" y1="497.2" x2="1456.9" y2="530.3" stroke="#000" stroke-width="0.9" />
<line x1="1458.3" y1="497.2" x2="1463.5" y2="530.3" stroke="#000" stroke-width="1.1" />
<line x1="1459.8" y1="497.2" x2="1456.9" y2="530.3" stroke="#000" stroke-width="1.1" />
<line x1="1472.5" y1="497.2" x2="1476.0" y2="530.3" stroke="#000" stroke-width="1.3" />
<line x1="1461.4" y1="497.2" x2="1461.1" y2="530.3" stroke="#000" stroke-width="0.9" />
<rect x="1479.2" y="497.2" width="20.5" height="33.1" fill="none" stroke="#000" stroke-width="1.2"/>
<line x1="1486.4" y1="497.2" x2="1490.0" y2="530.3" stroke="#000" stroke-width="1.1" />
<line x1="1498.0" y1="497.2" x2="1499.2" y2="530.3" stroke="#000" stroke-width="1.3" />
<line x1="1488.6" y1="497.2" x2="1493.6" y2="530.3" stroke="#000" stroke-width="0.9" />
<line x1="1482.0" y1="497.2" x2="1484.4" y2="530.3" stroke="#000" stroke-width="1.1" />
<line x1="1488.6" y1="497.2" x2="1484.8" y2="530.3" stroke="#000" stroke-width="0.9" />
<rect x="1503.2" y="497.2" width="38.2" height="33.1" fill="none" stroke="#000" stroke-width="1.2"/>
<line x1="1504.9" y1="497.2" x2="1508.4" y2="530.3" stroke="#000" stroke-width="1.3" />
<line x1="1512.3" y1="497.2" x2="1505.5" y2="530.3" stroke="#000" stroke-width="1.1" />
<line x1="1537.6" y1="497.2" x2="1540.9" y2="530.3" stroke="#000" stroke-width="1.3" />
<line x1="1515.3" y1="497.2" x2="1514.8" y2="530.3" stroke="#000" stroke-width="1.1" />
<line x1="1506.2" y1="497.2" x2="1514.1" y2="530.3" stroke="#000" stroke-width="1.1" />
<line x1="1509.8" y1="497.2" x2="1505.6" y2="530.3" stroke="#000" stroke-width="1.3" />
<line x1="1511.5" y1="497.2" x2="1504.2" y2="530.3" stroke="#000" stroke-width="1.3" />
<line x1="1519.7" y1="497.2" x2="1527.3" y2="530.3" stroke="#000" stroke-width="0.9" />
<line x1="1520.9" y1="497.2" x2="1520.1" y2="530.3" stroke="#000" stroke-width="1.3" />
<line x1="1519.0" y1="497.2" x2="1511.7" y2="530.3" stroke="#000" stroke-width="1.3" />
<line x1="1534.8" y1="497.2" x2="1540.2" y2="530.3" stroke="#000" stroke-width="1.3" />
<line x1="1516.7" y1="497.2" x2="1510.2" y2="530.3" stroke="#000" stroke-width="0.9" />
<rect x="1544.1" y="497.2" width="30.4" height="33.1" fill="none" stroke="#000" stroke-width="1.2"/>
<line x1="1551.6" y1="497.2" x2="1556.4" y2="530.3" stroke="#000" stroke-width="0.9" />
<line x1="1572.1" y1="497.2" x2="1565.0" y2="530.3" stroke="#000" stroke-width="0.9" />
<line x1="1563.5" y1="497.2" x2="1563.5" y2="530.3" stroke="#000" stroke-width="0.9" />
<line x1="1546.0" y1="497.2" x2="1551.3" y2="530.3" stroke="#000" stroke-width="1.1" />
<line x1="1553.6" y1="497.2" x2="1546.4" y2="530.3" stroke="#000" stroke-width="0.9" />
<line x1="1572.5" y1="497.2" x2="1567.6" y2="530.3" stroke="#000" stroke-width="1.3" />
<line x1="1559.6" y1="497.2" x2="1558.0" y2="530.3" stroke="#000" stroke-width="1.3" />
<line x1="1551.5" y1="497.2" x2="1558.3" y2="530.3" stroke="#000" stroke-width="0.9" />
<line x1="1547.2" y1="497.2" x2="1554.9" y2="530.3" stroke="#000" stroke-width="0.9" />
<line x1="1562.2" y1="497.2" x2="1567.9" y2="530.3" stroke="#000" stroke-width="0.9" />
<line x1="1563.0" y1="497.2" x2="1562.0" y2="530.3" stroke="#000" stroke-width="1.1" />
<line x1="1558.9" y1="497.2" x2="1560.0" y2="530.3" stroke="#000" stroke-width="1.1" />
<line x1="1560.0" y1="497.2" x2="1554.1" y2="530.3" stroke="#000" stroke-width="0.9" />
<line x1="1571.4" y1="497.2" x2="1568.4" y2="530.3" stroke="#000" stroke-width="1.1" />
<rect x="1575.6" y="497.2" width="30.3" height="33.1" fill="none" stroke="#000" stroke-width="1.2"/>
<line x1="1602.2" y1="497.2" x2="1605.4" y2="530.3" stroke="#000" stroke-width="1.3" />
<line x1="1579.5" y1="497.2" x2="1576.5" y2="530.3" stroke="#000" stroke-width="0.9" />
<line x1="1599.0" y1="497.2" x2="1595.2" y2="530.3" stroke="#000" stroke-width="1.1" />
<line x1="1585.3" y1="497.2" x2="1579.3" y2="530.3" stroke="#000" stroke-width="0.9" />
<line x1="1589.9" y1="497.2" x2="1593.1" y2="530.3" stroke="#000" stroke-width="1.1" />
<line x1="1604.5" y1="497.2" x2="1605.4" y2="530.3" stroke="#000" stroke-width="1.1" />
<line x1="1577.9" y1="497.2" x2="1581.1" y2="530.3" stroke="#000" stroke-width="0.9" />
<line x1="1596.7" y1="497.2" x2="1601.5" y2="530.3" stroke="#000" stroke-width="1.1" />
<line x1="1602.0" y1="497.2" x2="1595.2" y2="530.3" stroke="#000" stroke-width="1.1" />
<line x1="1587.2" y1="497.2" x2="1591.5" y2="530.3" stroke="#000" stroke-width="0.9" />
<line x1="1602.4" y1="497.2" x2="1604.8" y2="530.3" stroke="#000" stroke-width="0.9" />
<line x1="1592.9" y1="497.2" x2="1592.0" y2="530.3" stroke="#000" stroke-width="1.3" />
<line x1="1595.3" y1="497.2" x2="1602.6" y2="530.3" stroke="#000" stroke-width="1.3" />
<line x1="1577.5" y1="497.2" x2="1576.3" y2="530.3" stroke="#000" stroke-width="0.9" />
<line x1="1599.9" y1="497.2" x2="1598.0" y2="530.3" stroke="#000" stroke-width="0.9" />
<line x1="1585.5" y1="497.2" x2="1582.4" y2="530.3" stroke="#000" stroke-width="0.9" />
<line x1="1583.8" y1="497.2" x2="1586.6" y2="530.3" stroke="#000" stroke-width="1.1" />
<line x1="1577.1" y1="497.2" x2="1577.8" y2="530.3" stroke="#000" stroke-width="1.3" />
<line x1="1592.4" y1="497.2" x2="1584.9" y2="530.3" stroke="#000" stroke-width="0.9" />
<line x1="1604.5" y1="497.2" x2="1605.4" y2="530.3" stroke="#000" stroke-width="1.1" />
<line x1="1264.7" y1="449.9" x2="1266.5" y2="484.0" stroke="#000" stroke-width="1.4" />
<line x1="1262.5" y1="449.9" x2="1261.4" y2="484.0" stroke="#000" stroke-width="1.4" />
<line x1="1260.9" y1="449.9" x2="1260.3" y2="484.0" stroke="#000" stroke-width="1.4" />
<line x1="1260.0" y1="449.9" x2="1258.0" y2="484.0" stroke="#000" stroke-width="1.4" />
<line x1="1262.3" y1="449.9" x2="1263.6" y2="484.0" stroke="#000" stroke-width="1.4" />
<line x1="1263.5" y1="449.9" x2="1261.9" y2="484.0" stroke="#000" stroke-width="1.4" />
<line x1="1261.8" y1="449.9" x2="1260.5" y2="484.0" stroke="#000" stroke-width="1.4" />
<line x1="1259.7" y1="497.2" x2="1259.5" y2="530.3" stroke="#000" stroke-width="1.4" />
<line x1="1261.5" y1="497.2" x2="1262.7" y2="530.3" stroke="#000" stroke-width="1.4" />
<line x1="1254.9" y1="497.2" x2="1254.2" y2="530.3" stroke="#000" stroke-width="1.4" />
<line x1="1261.3" y1="497.2" x2="1261.2" y2="530.3" stroke="#000" stroke-width="1.4" />
<line x1="1257.5" y1="497.2" x2="1257.2" y2="530.3" stroke="#000" stroke-width="1.4" />
<line x1="1260.1" y1="497.2" x2="1261.9" y2="530.3" stroke="#000" stroke-width="1.4" />
<line x1="1258.3" y1="497.2" x2="1260.1" y2="530.3" stroke="#000" stroke-width="1.4" />
<line x1="1599.6" y1="449.9" x2="1598.0" y2="484.0" stroke="#000" stroke-width="1.4" />
<line x1="1600.9" y1="449.9" x2="1600.6" y2="484.0" stroke="#000" stroke-width="1.4" />
<line x1="1596.3" y1="449.9" x2="1598.2" y2="484.0" stroke="#000" stroke-width="1.4" />
<line x1="1596.2" y1="449.9" x2="1596.5" y2="484.0" stroke="#000" stroke-width="1.4" />
<line x1="1598.9" y1="449.9" x2="1600.4" y2="484.0" stroke="#000" stroke-width="1.4" />
<line x1="1598.4" y1="449.9" x2="1597.2" y2="484.0" stroke="#000" stroke-width="1.4" />
<line x1="1597.7" y1="449.9" x2="1596.5" y2="484.0" stroke="#000" stroke-width="1.4" />
<line x1="1595.6" y1="497.2" x2="1595.1" y2="530.3" stroke="#000" stroke-width="1.4" />
<line x1="1597.5" y1="497.2" x2="1596.5" y2="530.3" stroke="#000" stroke-width="1.4" />
<line x1="1593.5" y1="497.2" x2="1592.5" y2="530.3" stroke="#000" stroke-width="1.4" />
<line x1="1599.8" y1="497.2" x2="1601.2" y2="530.3" stroke="#000" stroke-width="1.4" />
<line x1="1598.5" y1="497.2" x2="1599.0" y2="530.3" stroke="#000" stroke-width="1.4" />
<line x1="1594.0" y1="497.2" x2="1592.6" y2="530.3" stroke="#000" stroke-width="1.4" />
<line x1="1598.3" y1="497.2" x2="1598.3" y2="530.3" stroke="#000" stroke-width="1.4" />
<line x1="1561.3" y1="449.9" x2="1560.0" y2="484.0" stroke="#000" stroke-width="1.4" />
<line x1="1561.9" y1="449.9" x2="1562.8" y2="484.0" stroke="#000" stroke-width="1.4" />
<line x1="1569.1" y1="449.9" x2="1567.9" y2="484.0" stroke="#000" stroke-width="1.4" />
<line x1="1568.2" y1="449.9" x2="1567.5" y2="484.0" stroke="#000" stroke-width="1.4" />
<line x1="1567.1" y1="449.9" x2="1568.6" y2="484.0" stroke="#000" stroke-width="1.4" />
<line x1="1566.6" y1="449.9" x2="1567.8" y2="484.0" stroke="#000" stroke-width="1.4" />
<line x1="1564.4" y1="449.9" x2="1562.4" y2="484.0" stroke="#000" stroke-width="1.4" />
<rect x="1249.6" y="484.0" width="359.8" height="13.2" fill="#fff" stroke="#000" stroke-width="1.1"/>
<line x1="1249.6" y1="497.2" x2="1249.6" y2="559.0" stroke="#000" stroke-width="1.0" />
<line x1="1609.4" y1="497.2" x2="1609.4" y2="559.0" stroke="#000" stroke-width="1.0" />
<line x1="1249.6" y1="550.1" x2="1609.4" y2="550.1" stroke="#000" stroke-width="1.0" />
<polygon points="1249.6,550.1 1258.1,548.5 1258.1,551.7" fill="#000"/>
<polygon points="1609.4,550.1 1600.9,551.7 1600.9,548.5" fill="#000"/>
<text x="1430" y="549.5" font-family="Liberation Serif" font-size="20" fill="#000" text-anchor="middle" textLength="37" lengthAdjust="spacingAndGlyphs" >ø810</text>
<circle cx="1430" cy="765.8" r="179.2" fill="none" stroke="#000" stroke-width="1.6"/>
<circle cx="1430" cy="765.8" r="165.6" fill="none" stroke="#000" stroke-width="0.9"/>
<g transform="rotate(4.091 1430 765.8)"><rect x="1420.0" y="589.6" width="20" height="7.8" rx="1.5" fill="none" stroke="#000" stroke-width="0.9"/><path d="M1430.0,589.6 V597.4 M1421.0,593.6 L1428.0,590.6 M1421.0,593.6 L1428.0,596.6 M1432.0,590.6 L1439.0,594.6" fill="none" stroke="#000" stroke-width="0.8"/></g>
<g transform="rotate(12.273 1430 765.8)"><rect x="1420.0" y="589.6" width="20" height="7.8" rx="1.5" fill="none" stroke="#000" stroke-width="0.9"/><path d="M1430.0,589.6 V597.4 M1421.0,593.6 L1428.0,590.6 M1421.0,593.6 L1428.0,596.6 M1432.0,590.6 L1439.0,594.6" fill="none" stroke="#000" stroke-width="0.8"/></g>
<g transform="rotate(20.455 1430 765.8)"><rect x="1420.0" y="589.6" width="20" height="7.8" rx="1.5" fill="none" stroke="#000" stroke-width="0.9"/><path d="M1430.0,589.6 V597.4 M1421.0,593.6 L1428.0,590.6 M1421.0,593.6 L1428.0,596.6 M1432.0,590.6 L1439.0,594.6" fill="none" stroke="#000" stroke-width="0.8"/></g>
<g transform="rotate(28.636 1430 765.8)"><rect x="1420.0" y="589.6" width="20" height="7.8" rx="1.5" fill="none" stroke="#000" stroke-width="0.9"/><path d="M1430.0,589.6 V597.4 M1421.0,593.6 L1428.0,590.6 M1421.0,593.6 L1428.0,596.6 M1432.0,590.6 L1439.0,594.6" fill="none" stroke="#000" stroke-width="0.8"/></g>
<g transform="rotate(36.818 1430 765.8)"><rect x="1420.0" y="589.6" width="20" height="7.8" rx="1.5" fill="none" stroke="#000" stroke-width="0.9"/><path d="M1430.0,589.6 V597.4 M1421.0,593.6 L1428.0,590.6 M1421.0,593.6 L1428.0,596.6 M1432.0,590.6 L1439.0,594.6" fill="none" stroke="#000" stroke-width="0.8"/></g>
<g transform="rotate(45.000 1430 765.8)"><rect x="1420.0" y="589.6" width="20" height="7.8" rx="1.5" fill="none" stroke="#000" stroke-width="0.9"/><path d="M1430.0,589.6 V597.4 M1421.0,593.6 L1428.0,590.6 M1421.0,593.6 L1428.0,596.6 M1432.0,590.6 L1439.0,594.6" fill="none" stroke="#000" stroke-width="0.8"/></g>
<g transform="rotate(53.182 1430 765.8)"><rect x="1420.0" y="589.6" width="20" height="7.8" rx="1.5" fill="none" stroke="#000" stroke-width="0.9"/><path d="M1430.0,589.6 V597.4 M1421.0,593.6 L1428.0,590.6 M1421.0,593.6 L1428.0,596.6 M1432.0,590.6 L1439.0,594.6" fill="none" stroke="#000" stroke-width="0.8"/></g>
<g transform="rotate(61.364 1430 765.8)"><rect x="1420.0" y="589.6" width="20" height="7.8" rx="1.5" fill="none" stroke="#000" stroke-width="0.9"/><path d="M1430.0,589.6 V597.4 M1421.0,593.6 L1428.0,590.6 M1421.0,593.6 L1428.0,596.6 M1432.0,590.6 L1439.0,594.6" fill="none" stroke="#000" stroke-width="0.8"/></g>
<g transform="rotate(69.545 1430 765.8)"><rect x="1420.0" y="589.6" width="20" height="7.8" rx="1.5" fill="none" stroke="#000" stroke-width="0.9"/><path d="M1430.0,589.6 V597.4 M1421.0,593.6 L1428.0,590.6 M1421.0,593.6 L1428.0,596.6 M1432.0,590.6 L1439.0,594.6" fill="none" stroke="#000" stroke-width="0.8"/></g>
<g transform="rotate(77.727 1430 765.8)"><rect x="1420.0" y="589.6" width="20" height="7.8" rx="1.5" fill="none" stroke="#000" stroke-width="0.9"/><path d="M1430.0,589.6 V597.4 M1421.0,593.6 L1428.0,590.6 M1421.0,593.6 L1428.0,596.6 M1432.0,590.6 L1439.0,594.6" fill="none" stroke="#000" stroke-width="0.8"/></g>
<g transform="rotate(85.909 1430 765.8)"><rect x="1420.0" y="589.6" width="20" height="7.8" rx="1.5" fill="none" stroke="#000" stroke-width="0.9"/><path d="M1430.0,589.6 V597.4 M1421.0,593.6 L1428.0,590.6 M1421.0,593.6 L1428.0,596.6 M1432.0,590.6 L1439.0,594.6" fill="none" stroke="#000" stroke-width="0.8"/></g>
<g transform="rotate(94.091 1430 765.8)"><rect x="1420.0" y="589.6" width="20" height="7.8" rx="1.5" fill="none" stroke="#000" stroke-width="0.9"/><path d="M1430.0,589.6 V597.4 M1421.0,593.6 L1428.0,590.6 M1421.0,593.6 L1428.0,596.6 M1432.0,590.6 L1439.0,594.6" fill="none" stroke="#000" stroke-width="0.8"/></g>
<g transform="rotate(102.273 1430 765.8)"><rect x="1420.0" y="589.6" width="20" height="7.8" rx="1.5" fill="none" stroke="#000" stroke-width="0.9"/><path d="M1430.0,589.6 V597.4 M1421.0,593.6 L1428.0,590.6 M1421.0,593.6 L1428.0,596.6 M1432.0,590.6 L1439.0,594.6" fill="none" stroke="#000" stroke-width="0.8"/></g>
<g transform="rotate(110.455 1430 765.8)"><rect x="1420.0" y="589.6" width="20" height="7.8" rx="1.5" fill="none" stroke="#000" stroke-width="0.9"/><path d="M1430.0,589.6 V597.4 M1421.0,593.6 L1428.0,590.6 M1421.0,593.6 L1428.0,596.6 M1432.0,590.6 L1439.0,594.6" fill="none" stroke="#000" stroke-width="0.8"/></g>
<g transform="rotate(118.636 1430 765.8)"><rect x="1420.0" y="589.6" width="20" height="7.8" rx="1.5" fill="none" stroke="#000" stroke-width="0.9"/><path d="M1430.0,589.6 V597.4 M1421.0,593.6 L1428.0,590.6 M1421.0,593.6 L1428.0,596.6 M1432.0,590.6 L1439.0,594.6" fill="none" stroke="#000" stroke-width="0.8"/></g>
<g transform="rotate(126.818 1430 765.8)"><rect x="1420.0" y="589.6" width="20" height="7.8" rx="1.5" fill="none" stroke="#000" stroke-width="0.9"/><path d="M1430.0,589.6 V597.4 M1421.0,593.6 L1428.0,590.6 M1421.0,593.6 L1428.0,596.6 M1432.0,590.6 L1439.0,594.6" fill="none" stroke="#000" stroke-width="0.8"/></g>
<g transform="rotate(135.000 1430 765.8)"><rect x="1420.0" y="589.6" width="20" height="7.8" rx="1.5" fill="none" stroke="#000" stroke-width="0.9"/><path d="M1430.0,589.6 V597.4 M1421.0,593.6 L1428.0,590.6 M1421.0,593.6 L1428.0,596.6 M1432.0,590.6 L1439.0,594.6" fill="none" stroke="#000" stroke-width="0.8"/></g>
<g transform="rotate(143.182 1430 765.8)"><rect x="1420.0" y="589.6" width="20" height="7.8" rx="1.5" fill="none" stroke="#000" stroke-width="0.9"/><path d="M1430.0,589.6 V597.4 M1421.0,593.6 L1428.0,590.6 M1421.0,593.6 L1428.0,596.6 M1432.0,590.6 L1439.0,594.6" fill="none" stroke="#000" stroke-width="0.8"/></g>
<g transform="rotate(151.364 1430 765.8)"><rect x="1420.0" y="589.6" width="20" height="7.8" rx="1.5" fill="none" stroke="#000" stroke-width="0.9"/><path d="M1430.0,589.6 V597.4 M1421.0,593.6 L1428.0,590.6 M1421.0,593.6 L1428.0,596.6 M1432.0,590.6 L1439.0,594.6" fill="none" stroke="#000" stroke-width="0.8"/></g>
<g transform="rotate(159.545 1430 765.8)"><rect x="1420.0" y="589.6" width="20" height="7.8" rx="1.5" fill="none" stroke="#000" stroke-width="0.9"/><path d="M1430.0,589.6 V597.4 M1421.0,593.6 L1428.0,590.6 M1421.0,593.6 L1428.0,596.6 M1432.0,590.6 L1439.0,594.6" fill="none" stroke="#000" stroke-width="0.8"/></g>
<g transform="rotate(167.727 1430 765.8)"><rect x="1420.0" y="589.6" width="20" height="7.8" rx="1.5" fill="none" stroke="#000" stroke-width="0.9"/><path d="M1430.0,589.6 V597.4 M1421.0,593.6 L1428.0,590.6 M1421.0,593.6 L1428.0,596.6 M1432.0,590.6 L1439.0,594.6" fill="none" stroke="#000" stroke-width="0.8"/></g>
<g transform="rotate(175.909 1430 765.8)"><rect x="1420.0" y="589.6" width="20" height="7.8" rx="1.5" fill="none" stroke="#000" stroke-width="0.9"/><path d="M1430.0,589.6 V597.4 M1421.0,593.6 L1428.0,590.6 M1421.0,593.6 L1428.0,596.6 M1432.0,590.6 L1439.0,594.6" fill="none" stroke="#000" stroke-width="0.8"/></g>
<g transform="rotate(184.091 1430 765.8)"><rect x="1420.0" y="589.6" width="20" height="7.8" rx="1.5" fill="none" stroke="#000" stroke-width="0.9"/><path d="M1430.0,589.6 V597.4 M1421.0,593.6 L1428.0,590.6 M1421.0,593.6 L1428.0,596.6 M1432.0,590.6 L1439.0,594.6" fill="none" stroke="#000" stroke-width="0.8"/></g>
<g transform="rotate(192.273 1430 765.8)"><rect x="1420.0" y="589.6" width="20" height="7.8" rx="1.5" fill="none" stroke="#000" stroke-width="0.9"/><path d="M1430.0,589.6 V597.4 M1421.0,593.6 L1428.0,590.6 M1421.0,593.6 L1428.0,596.6 M1432.0,590.6 L1439.0,594.6" fill="none" stroke="#000" stroke-width="0.8"/></g>
<g transform="rotate(200.455 1430 765.8)"><rect x="1420.0" y="589.6" width="20" height="7.8" rx="1.5" fill="none" stroke="#000" stroke-width="0.9"/><path d="M1430.0,589.6 V597.4 M1421.0,593.6 L1428.0,590.6 M1421.0,593.6 L1428.0,596.6 M1432.0,590.6 L1439.0,594.6" fill="none" stroke="#000" stroke-width="0.8"/></g>
<g transform="rotate(208.636 1430 765.8)"><rect x="1420.0" y="589.6" width="20" height="7.8" rx="1.5" fill="none" stroke="#000" stroke-width="0.9"/><path d="M1430.0,589.6 V597.4 M1421.0,593.6 L1428.0,590.6 M1421.0,593.6 L1428.0,596.6 M1432.0,590.6 L1439.0,594.6" fill="none" stroke="#000" stroke-width="0.8"/></g>
<g transform="rotate(216.818 1430 765.8)"><rect x="1420.0" y="589.6" width="20" height="7.8" rx="1.5" fill="none" stroke="#000" stroke-width="0.9"/><path d="M1430.0,589.6 V597.4 M1421.0,593.6 L1428.0,590.6 M1421.0,593.6 L1428.0,596.6 M1432.0,590.6 L1439.0,594.6" fill="none" stroke="#000" stroke-width="0.8"/></g>
<g transform="rotate(225.000 1430 765.8)"><rect x="1420.0" y="589.6" width="20" height="7.8" rx="1.5" fill="none" stroke="#000" stroke-width="0.9"/><path d="M1430.0,589.6 V597.4 M1421.0,593.6 L1428.0,590.6 M1421.0,593.6 L1428.0,596.6 M1432.0,590.6 L1439.0,594.6" fill="none" stroke="#000" stroke-width="0.8"/></g>
<g transform="rotate(233.182 1430 765.8)"><rect x="1420.0" y="589.6" width="20" height="7.8" rx="1.5" fill="none" stroke="#000" stroke-width="0.9"/><path d="M1430.0,589.6 V597.4 M1421.0,593.6 L1428.0,590.6 M1421.0,593.6 L1428.0,596.6 M1432.0,590.6 L1439.0,594.6" fill="none" stroke="#000" stroke-width="0.8"/></g>
<g transform="rotate(241.364 1430 765.8)"><rect x="1420.0" y="589.6" width="20" height="7.8" rx="1.5" fill="none" stroke="#000" stroke-width="0.9"/><path d="M1430.0,589.6 V597.4 M1421.0,593.6 L1428.0,590.6 M1421.0,593.6 L1428.0,596.6 M1432.0,590.6 L1439.0,594.6" fill="none" stroke="#000" stroke-width="0.8"/></g>
<g transform="rotate(249.545 1430 765.8)"><rect x="1420.0" y="589.6" width="20" height="7.8" rx="1.5" fill="none" stroke="#000" stroke-width="0.9"/><path d="M1430.0,589.6 V597.4 M1421.0,593.6 L1428.0,590.6 M1421.0,593.6 L1428.0,596.6 M1432.0,590.6 L1439.0,594.6" fill="none" stroke="#000" stroke-width="0.8"/></g>
<g transform="rotate(257.727 1430 765.8)"><rect x="1420.0" y="589.6" width="20" height="7.8" rx="1.5" fill="none" stroke="#000" stroke-width="0.9"/><path d="M1430.0,589.6 V597.4 M1421.0,593.6 L1428.0,590.6 M1421.0,593.6 L1428.0,596.6 M1432.0,590.6 L1439.0,594.6" fill="none" stroke="#000" stroke-width="0.8"/></g>
<g transform="rotate(265.909 1430 765.8)"><rect x="1420.0" y="589.6" width="20" height="7.8" rx="1.5" fill="none" stroke="#000" stroke-width="0.9"/><path d="M1430.0,589.6 V597.4 M1421.0,593.6 L1428.0,590.6 M1421.0,593.6 L1428.0,596.6 M1432.0,590.6 L1439.0,594.6" fill="none" stroke="#000" stroke-width="0.8"/></g>
<g transform="rotate(274.091 1430 765.8)"><rect x="1420.0" y="589.6" width="20" height="7.8" rx="1.5" fill="none" stroke="#000" stroke-width="0.9"/><path d="M1430.0,589.6 V597.4 M1421.0,593.6 L1428.0,590.6 M1421.0,593.6 L1428.0,596.6 M1432.0,590.6 L1439.0,594.6" fill="none" stroke="#000" stroke-width="0.8"/></g>
<g transform="rotate(282.273 1430 765.8)"><rect x="1420.0" y="589.6" width="20" height="7.8" rx="1.5" fill="none" stroke="#000" stroke-width="0.9"/><path d="M1430.0,589.6 V597.4 M1421.0,593.6 L1428.0,590.6 M1421.0,593.6 L1428.0,596.6 M1432.0,590.6 L1439.0,594.6" fill="none" stroke="#000" stroke-width="0.8"/></g>
<g transform="rotate(290.455 1430 765.8)"><rect x="1420.0" y="589.6" width="20" height="7.8" rx="1.5" fill="none" stroke="#000" stroke-width="0.9"/><path d="M1430.0,589.6 V597.4 M1421.0,593.6 L1428.0,590.6 M1421.0,593.6 L1428.0,596.6 M1432.0,590.6 L1439.0,594.6" fill="none" stroke="#000" stroke-width="0.8"/></g>
<g transform="rotate(298.636 1430 765.8)"><rect x="1420.0" y="589.6" width="20" height="7.8" rx="1.5" fill="none" stroke="#000" stroke-width="0.9"/><path d="M1430.0,589.6 V597.4 M1421.0,593.6 L1428.0,590.6 M1421.0,593.6 L1428.0,596.6 M1432.0,590.6 L1439.0,594.6" fill="none" stroke="#000" stroke-width="0.8"/></g>
<g transform="rotate(306.818 1430 765.8)"><rect x="1420.0" y="589.6" width="20" height="7.8" rx="1.5" fill="none" stroke="#000" stroke-width="0.9"/><path d="M1430.0,589.6 V597.4 M1421.0,593.6 L1428.0,590.6 M1421.0,593.6 L1428.0,596.6 M1432.0,590.6 L1439.0,594.6" fill="none" stroke="#000" stroke-width="0.8"/></g>
<g transform="rotate(315.000 1430 765.8)"><rect x="1420.0" y="589.6" width="20" height="7.8" rx="1.5" fill="none" stroke="#000" stroke-width="0.9"/><path d="M1430.0,589.6 V597.4 M1421.0,593.6 L1428.0,590.6 M1421.0,593.6 L1428.0,596.6 M1432.0,590.6 L1439.0,594.6" fill="none" stroke="#000" stroke-width="0.8"/></g>
<g transform="rotate(323.182 1430 765.8)"><rect x="1420.0" y="589.6" width="20" height="7.8" rx="1.5" fill="none" stroke="#000" stroke-width="0.9"/><path d="M1430.0,589.6 V597.4 M1421.0,593.6 L1428.0,590.6 M1421.0,593.6 L1428.0,596.6 M1432.0,590.6 L1439.0,594.6" fill="none" stroke="#000" stroke-width="0.8"/></g>
<g transform="rotate(331.364 1430 765.8)"><rect x="1420.0" y="589.6" width="20" height="7.8" rx="1.5" fill="none" stroke="#000" stroke-width="0.9"/><path d="M1430.0,589.6 V597.4 M1421.0,593.6 L1428.0,590.6 M1421.0,593.6 L1428.0,596.6 M1432.0,590.6 L1439.0,594.6" fill="none" stroke="#000" stroke-width="0.8"/></g>
<g transform="rotate(339.545 1430 765.8)"><rect x="1420.0" y="589.6" width="20" height="7.8" rx="1.5" fill="none" stroke="#000" stroke-width="0.9"/><path d="M1430.0,589.6 V597.4 M1421.0,593.6 L1428.0,590.6 M1421.0,593.6 L1428.0,596.6 M1432.0,590.6 L1439.0,594.6" fill="none" stroke="#000" stroke-width="0.8"/></g>
<g transform="rotate(347.727 1430 765.8)"><rect x="1420.0" y="589.6" width="20" height="7.8" rx="1.5" fill="none" stroke="#000" stroke-width="0.9"/><path d="M1430.0,589.6 V597.4 M1421.0,593.6 L1428.0,590.6 M1421.0,593.6 L1428.0,596.6 M1432.0,590.6 L1439.0,594.6" fill="none" stroke="#000" stroke-width="0.8"/></g>
<g transform="rotate(355.909 1430 765.8)"><rect x="1420.0" y="589.6" width="20" height="7.8" rx="1.5" fill="none" stroke="#000" stroke-width="0.9"/><path d="M1430.0,589.6 V597.4 M1421.0,593.6 L1428.0,590.6 M1421.0,593.6 L1428.0,596.6 M1432.0,590.6 L1439.0,594.6" fill="none" stroke="#000" stroke-width="0.8"/></g>
<line x1="1430.0" y1="594.0" x2="1430.0" y2="726.0" stroke="#3a3a3a" stroke-width="1.7" />
<line x1="1430.0" y1="806.0" x2="1430.0" y2="938.0" stroke="#3a3a3a" stroke-width="1.7" />
<line x1="1265.0" y1="765.8" x2="1390.0" y2="765.8" stroke="#3a3a3a" stroke-width="1.7" />
<line x1="1470.0" y1="765.8" x2="1595.0" y2="765.8" stroke="#3a3a3a" stroke-width="1.7" />
<circle cx="1430" cy="765.8" r="39.8" fill="#fff" stroke="#000" stroke-width="2.2"/>
<g transform="rotate(0 1430 765.8)"><path d="M1420.0,726.4 Q1421.0,730.8 1424.0,731.6 H1436.0 Q1439.0,730.8 1440.0,726.4" fill="#fff" stroke="#000" stroke-width="1"/><line x1="1430" y1="731.5999999999999" x2="1430" y2="720.8" stroke="#555" stroke-width="1.6"/></g>
<g transform="rotate(90 1430 765.8)"><path d="M1420.0,726.4 Q1421.0,730.8 1424.0,731.6 H1436.0 Q1439.0,730.8 1440.0,726.4" fill="#fff" stroke="#000" stroke-width="1"/><line x1="1430" y1="731.5999999999999" x2="1430" y2="720.8" stroke="#555" stroke-width="1.6"/></g>
<g transform="rotate(180 1430 765.8)"><path d="M1420.0,726.4 Q1421.0,730.8 1424.0,731.6 H1436.0 Q1439.0,730.8 1440.0,726.4" fill="#fff" stroke="#000" stroke-width="1"/><line x1="1430" y1="731.5999999999999" x2="1430" y2="720.8" stroke="#555" stroke-width="1.6"/></g>
<g transform="rotate(270 1430 765.8)"><path d="M1420.0,726.4 Q1421.0,730.8 1424.0,731.6 H1436.0 Q1439.0,730.8 1440.0,726.4" fill="#fff" stroke="#000" stroke-width="1"/><line x1="1430" y1="731.5999999999999" x2="1430" y2="720.8" stroke="#555" stroke-width="1.6"/></g>
<circle cx="1416.3" cy="737" r="0.9" fill="#000"/>
<circle cx="1420" cy="746.8" r="0.9" fill="#000"/>
<circle cx="1410.3" cy="757" r="0.9" fill="#000"/>
<circle cx="1400.8" cy="780" r="0.9" fill="#000"/>
<circle cx="1439.5" cy="775.8" r="0.9" fill="#000"/>
<circle cx="1443" cy="795.8" r="0.9" fill="#000"/>
<circle cx="1446.6" cy="776" r="0.9" fill="#000"/>
<circle cx="1458.8" cy="752.7" r="0.9" fill="#000"/>
<circle cx="1461" cy="758.8" r="0.9" fill="#000"/>
<circle cx="1452.5" cy="789" r="0.9" fill="#000"/>
<circle cx="1453" cy="742.5" r="0.9" fill="#000"/>
<circle cx="1407" cy="743.5" r="0.9" fill="#000"/>
<circle cx="1407.5" cy="790" r="0.9" fill="#000"/>
<circle cx="1398.5" cy="779" r="0.9" fill="#000"/>
<path d="M1427,763.5 L1414.8,790.5 Q1414,795 1418,795 Q1420,795 1421,792.5 L1433,766.5 Q1434,763 1430.5,762 Q1428,762 1427,763.5 Z" fill="none" stroke="#000" stroke-width="0.9"/>
<circle cx="1430" cy="765.8" r="3" fill="none" stroke="#000" stroke-width="0.9"/>
<line x1="1286.6" y1="901.7" x2="1575.0" y2="629.5" stroke="#000" stroke-width="0.9" />
<polygon points="1303.5,892.3 1298.3,899.8 1296.0,897.5" fill="#000"/>
<polygon points="1560.8,642.6 1566.2,635.3 1568.4,637.6" fill="#000"/>
<line x1="1575.0" y1="629.8" x2="1613.2" y2="629.8" stroke="#555" stroke-width="1.1" />
<circle cx="1577.3" cy="624.9" r="4.3" fill="none" stroke="#000" stroke-width="0.9"/>
<line x1="1580.9" y1="617.0" x2="1574.8" y2="628.4" stroke="#000" stroke-width="0.9" />
<text x="1585.5" y="629.7" font-family="Liberation Serif" font-size="20" fill="#000" text-anchor="start" textLength="27.6" lengthAdjust="spacingAndGlyphs" >810</text>
<line x1="1382.8" y1="731.9" x2="1487.2" y2="808.5" stroke="#000" stroke-width="0.9" />
<polygon points="1397.5,742.3 1390.2,738.8 1391.9,736.4" fill="#000"/>
<polygon points="1463.0,789.8 1470.3,793.3 1468.6,795.7" fill="#000"/>
<line x1="1487.2" y1="808.6" x2="1527.4" y2="808.6" stroke="#000" stroke-width="0.9" />
<circle cx="1491.8" cy="802" r="4.7" fill="none" stroke="#000" stroke-width="0.9"/>
<line x1="1496.6" y1="795.0" x2="1487.5" y2="807.0" stroke="#000" stroke-width="0.9" />
<text x="1501" y="807.6" font-family="Liberation Serif" font-size="19" fill="#000" text-anchor="start" textLength="26.4" lengthAdjust="spacingAndGlyphs" >180</text>
</svg></body></html>
